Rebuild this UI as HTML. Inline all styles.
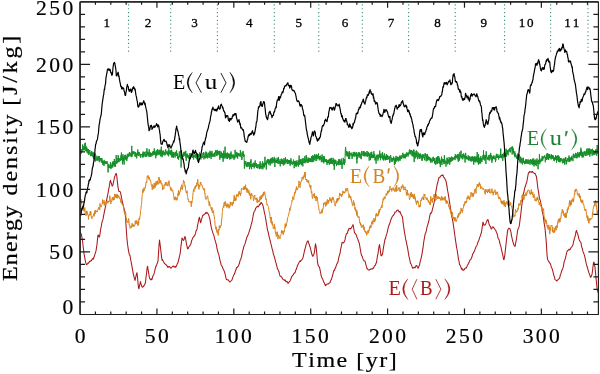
<!DOCTYPE html>
<html><head><meta charset="utf-8"><style>
html,body{margin:0;padding:0;background:#fff;width:600px;height:374px;overflow:hidden}
svg{display:block;will-change:transform}
.s{font-family:"Liberation Serif",serif;fill:#000;font-kerning:none}
.sm{stroke:#000;stroke-width:0.3px}
.th{}
.tl{stroke:#000;stroke-width:0.2px}
</style></head><body>
<svg width="600" height="374" viewBox="0 0 600 374">
<defs><clipPath id="c"><rect x="80" y="1.8" width="518.4" height="312.6"/></clipPath></defs>
<rect width="600" height="374" fill="#fff"/>
<line x1="128.5" y1="4.3" x2="128.5" y2="53" stroke="#3d9282" stroke-width="1.1" stroke-dasharray="1.2 2.65"/>
<line x1="170.7" y1="4.3" x2="170.7" y2="53" stroke="#3d9282" stroke-width="1.1" stroke-dasharray="1.2 2.65"/>
<line x1="217.4" y1="4.3" x2="217.4" y2="53" stroke="#3d9282" stroke-width="1.1" stroke-dasharray="1.2 2.65"/>
<line x1="274.3" y1="4.3" x2="274.3" y2="53" stroke="#3d9282" stroke-width="1.1" stroke-dasharray="1.2 2.65"/>
<line x1="318.8" y1="4.3" x2="318.8" y2="53" stroke="#3d9282" stroke-width="1.1" stroke-dasharray="1.2 2.65"/>
<line x1="362.3" y1="4.3" x2="362.3" y2="53" stroke="#3d9282" stroke-width="1.1" stroke-dasharray="1.2 2.65"/>
<line x1="408.6" y1="4.3" x2="408.6" y2="53" stroke="#3d9282" stroke-width="1.1" stroke-dasharray="1.2 2.65"/>
<line x1="455.2" y1="4.3" x2="455.2" y2="53" stroke="#3d9282" stroke-width="1.1" stroke-dasharray="1.2 2.65"/>
<line x1="504.6" y1="4.3" x2="504.6" y2="53" stroke="#3d9282" stroke-width="1.1" stroke-dasharray="1.2 2.65"/>
<line x1="550.6" y1="4.3" x2="550.6" y2="53" stroke="#3d9282" stroke-width="1.1" stroke-dasharray="1.2 2.65"/>
<line x1="588.0" y1="4.3" x2="588.0" y2="53" stroke="#3d9282" stroke-width="1.1" stroke-dasharray="1.2 2.65"/>
<text x="103.44" y="26.60" font-size="13.1" letter-spacing="1.90" class="s sm">1</text>
<text x="144.80" y="26.60" font-size="13.1" letter-spacing="1.90" class="s sm">2</text>
<text x="191.27" y="26.60" font-size="13.1" letter-spacing="1.90" class="s sm">3</text>
<text x="246.00" y="26.60" font-size="13.1" letter-spacing="1.90" class="s sm">4</text>
<text x="295.60" y="26.60" font-size="13.1" letter-spacing="1.90" class="s sm">5</text>
<text x="341.64" y="26.60" font-size="13.1" letter-spacing="1.90" class="s sm">6</text>
<text x="387.68" y="26.60" font-size="13.1" letter-spacing="1.90" class="s sm">7</text>
<text x="434.32" y="26.60" font-size="13.1" letter-spacing="1.90" class="s sm">8</text>
<text x="480.58" y="26.60" font-size="13.1" letter-spacing="1.90" class="s sm">9</text>
<text x="518.67" y="26.60" font-size="13.1" letter-spacing="1.90" class="s sm">10</text>
<text x="564.32" y="26.60" font-size="13.1" letter-spacing="1.90" class="s sm">11</text>
<g clip-path="url(#c)" fill="none" stroke-linejoin="round">
<polyline points="80.00,232.38 80.50,232.78 81.00,233.67 81.50,234.97 82.00,237.91 82.50,240.51 83.00,245.29 83.50,249.31 84.00,253.43 84.50,256.34 85.00,258.93 85.50,261.90 86.00,263.38 86.50,264.66 87.00,264.19 87.50,264.07 88.00,262.83 88.50,263.31 89.00,262.49 89.50,261.24 90.00,261.33 90.50,261.22 91.00,260.56 91.50,260.71 92.00,259.33 92.50,258.59 93.00,259.32 93.50,258.74 94.00,256.97 94.50,255.77 95.00,254.19 95.50,252.57 96.00,250.88 96.50,247.69 97.00,244.35 97.50,239.09 98.00,235.01 98.50,235.17 99.00,236.92 99.50,236.97 100.00,234.01 100.50,229.89 101.00,227.54 101.50,225.24 102.00,221.84 102.50,220.73 103.00,219.18 103.50,216.19 104.00,213.86 104.50,211.12 105.00,208.89 105.50,206.41 106.00,203.95 106.50,200.72 107.00,198.18 107.50,195.86 108.00,193.30 108.50,190.43 109.00,187.84 109.50,185.02 110.00,181.69 110.50,180.29 111.00,182.59 111.50,183.36 112.00,185.99 112.50,186.05 113.00,184.66 113.50,182.19 114.00,179.73 114.50,177.17 115.00,175.88 115.50,174.30 116.00,173.50 116.50,173.91 117.00,178.22 117.50,183.14 118.00,187.10 118.50,189.82 119.00,191.51 119.50,191.49 120.00,191.57 120.50,192.62 121.00,194.95 121.50,197.71 122.00,200.02 122.50,202.75 123.00,204.13 123.50,206.53 124.00,208.32 124.50,211.03 125.00,213.58 125.50,216.43 126.00,224.97 126.50,232.66 127.00,239.11 127.50,244.03 128.00,247.44 128.50,250.84 129.00,253.10 129.50,255.01 130.00,255.42 130.50,258.71 131.00,261.23 131.50,263.96 132.00,266.62 132.50,269.32 133.00,272.37 133.50,274.78 134.00,276.86 134.50,278.73 135.00,280.45 135.50,278.52 136.00,275.87 136.50,273.82 137.00,272.75 137.50,277.37 138.00,282.76 138.50,287.99 139.00,288.73 139.50,285.67 140.00,283.86 140.50,281.55 141.00,283.94 141.50,285.46 142.00,286.93 142.50,287.27 143.00,286.72 143.50,286.45 144.00,285.48 144.50,285.00 145.00,283.68 145.50,282.59 146.00,277.11 146.50,273.78 147.00,269.09 147.50,266.18 148.00,268.98 148.50,272.03 149.00,275.26 149.50,278.24 150.00,278.89 150.50,279.46 151.00,279.84 151.50,278.79 152.00,279.41 152.50,277.26 153.00,275.80 153.50,274.91 154.00,273.95 154.50,272.14 155.00,269.69 155.50,267.82 156.00,266.01 156.50,265.72 157.00,263.87 157.50,262.50 158.00,261.09 158.50,253.14 159.00,245.65 159.50,240.01 160.00,243.55 160.50,247.71 161.00,252.12 161.50,256.23 162.00,260.20 162.50,259.59 163.00,260.84 163.50,261.67 164.00,262.43 164.50,263.45 165.00,263.94 165.50,264.48 166.00,264.87 166.50,264.97 167.00,265.93 167.50,266.63 168.00,267.53 168.50,266.74 169.00,266.43 169.50,266.50 170.00,267.06 170.50,268.04 171.00,268.14 171.50,267.48 172.00,267.01 172.50,266.42 173.00,266.09 173.50,266.30 174.00,266.89 174.50,266.96 175.00,266.29 175.50,267.24 176.00,266.59 176.50,266.11 177.00,264.42 177.50,263.16 178.00,262.73 178.50,260.12 179.00,258.51 179.50,256.23 180.00,254.40 180.50,250.52 181.00,245.58 181.50,242.30 182.00,238.02 182.50,238.61 183.00,239.82 183.50,240.36 184.00,239.70 184.50,237.67 185.00,236.47 185.50,238.47 186.00,240.99 186.50,244.10 187.00,246.10 187.50,248.68 188.00,248.89 188.50,247.77 189.00,246.74 189.50,246.10 190.00,245.61 190.50,244.13 191.00,243.54 191.50,241.05 192.00,239.85 192.50,238.72 193.00,237.44 193.50,236.96 194.00,236.29 194.50,236.00 195.00,234.82 195.50,233.41 196.00,230.83 196.50,230.54 197.00,229.15 197.50,225.53 198.00,223.51 198.50,220.61 199.00,218.50 199.50,217.18 200.00,220.36 200.50,222.76 201.00,221.82 201.50,219.21 202.00,218.22 202.50,216.00 203.00,215.08 203.50,215.30 204.00,214.66 204.50,214.39 205.00,213.63 205.50,213.51 206.00,212.20 206.50,213.19 207.00,212.84 207.50,212.84 208.00,213.93 208.50,214.31 209.00,216.14 209.50,217.56 210.00,219.67 210.50,223.21 211.00,225.96 211.50,228.49 212.00,230.11 212.50,231.55 213.00,233.42 213.50,234.37 214.00,235.95 214.50,238.40 215.00,240.11 215.50,241.42 216.00,243.54 216.50,245.20 217.00,248.70 217.50,250.43 218.00,252.29 218.50,254.14 219.00,255.37 219.50,257.90 220.00,260.46 220.50,261.81 221.00,264.45 221.50,265.52 222.00,266.18 222.50,267.24 223.00,268.96 223.50,269.45 224.00,270.65 224.50,272.02 225.00,273.70 225.50,275.58 226.00,278.17 226.50,279.66 227.00,279.36 227.50,279.84 228.00,280.19 228.50,279.96 229.00,280.97 229.50,281.74 230.00,282.00 230.50,281.17 231.00,280.99 231.50,280.51 232.00,279.89 232.50,278.03 233.00,276.89 233.50,275.58 234.00,274.49 234.50,273.85 235.00,272.54 235.50,270.71 236.00,269.78 236.50,267.57 237.00,267.75 237.50,266.92 238.00,266.39 238.50,265.98 239.00,264.16 239.50,263.05 240.00,260.68 240.50,259.71 241.00,258.33 241.50,256.86 242.00,254.22 242.50,251.64 243.00,249.79 243.50,248.00 244.00,245.88 244.50,244.98 245.00,243.88 245.50,242.05 246.00,240.24 246.50,238.83 247.00,236.67 247.50,236.35 248.00,234.69 248.50,234.03 249.00,232.07 249.50,230.61 250.00,228.99 250.50,227.30 251.00,225.49 251.50,223.40 252.00,222.23 252.50,219.20 253.00,216.67 253.50,213.60 254.00,211.83 254.50,211.26 255.00,210.58 255.50,208.62 256.00,207.87 256.50,207.07 257.00,206.65 257.50,206.17 258.00,206.99 258.50,206.20 259.00,205.92 259.50,204.12 260.00,203.93 260.50,204.20 261.00,202.26 261.50,202.75 262.00,203.67 262.50,204.04 263.00,205.80 263.50,207.78 264.00,210.36 264.50,213.02 265.00,214.98 265.50,217.57 266.00,220.59 266.50,224.01 267.00,226.78 267.50,230.41 268.00,231.34 268.50,233.61 269.00,236.28 269.50,237.93 270.00,240.24 270.50,242.19 271.00,244.15 271.50,246.12 272.00,248.23 272.50,249.91 273.00,252.22 273.50,254.53 274.00,255.61 274.50,257.56 275.00,259.10 275.50,261.58 276.00,262.86 276.50,264.93 277.00,266.89 277.50,268.80 278.00,269.61 278.50,271.12 279.00,271.70 279.50,274.41 280.00,275.79 280.50,276.32 281.00,276.15 281.50,277.35 282.00,277.36 282.50,278.89 283.00,279.26 283.50,279.66 284.00,279.99 284.50,280.44 285.00,279.88 285.50,280.53 286.00,281.79 286.50,281.52 287.00,281.69 287.50,281.78 288.00,283.43 288.50,282.42 289.00,282.23 289.50,281.71 290.00,280.95 290.50,279.88 291.00,278.85 291.50,277.08 292.00,276.28 292.50,275.62 293.00,275.14 293.50,274.37 294.00,273.35 294.50,272.82 295.00,272.88 295.50,271.10 296.00,269.62 296.50,268.86 297.00,267.02 297.50,265.77 298.00,264.36 298.50,263.70 299.00,262.50 299.50,261.73 300.00,260.91 300.50,261.50 301.00,260.53 301.50,260.13 302.00,259.58 302.50,258.48 303.00,257.68 303.50,255.42 304.00,253.24 304.50,250.74 305.00,248.87 305.50,247.12 306.00,244.86 306.50,243.86 307.00,242.12 307.50,241.23 308.00,240.83 308.50,242.44 309.00,243.71 309.50,245.70 310.00,246.72 310.50,248.67 311.00,250.64 311.50,253.01 312.00,254.55 312.50,256.00 313.00,256.25 313.50,254.60 314.00,254.26 314.50,251.70 315.00,247.07 315.50,243.83 316.00,246.19 316.50,250.19 317.00,256.06 317.50,262.19 318.00,264.78 318.50,266.20 319.00,266.60 319.50,267.42 320.00,269.58 320.50,272.00 321.00,275.01 321.50,276.85 322.00,278.19 322.50,278.76 323.00,279.88 323.50,281.47 324.00,282.38 324.50,283.48 325.00,284.86 325.50,285.61 326.00,285.16 326.50,284.16 327.00,284.24 327.50,284.05 328.00,283.84 328.50,283.88 329.00,283.27 329.50,282.85 330.00,282.51 330.50,280.90 331.00,279.93 331.50,279.31 332.00,277.42 332.50,275.76 333.00,273.87 333.50,271.65 334.00,270.26 334.50,270.56 335.00,268.32 335.50,268.02 336.00,266.32 336.50,264.97 337.00,263.80 337.50,262.64 338.00,261.92 338.50,258.88 339.00,256.69 339.50,254.86 340.00,253.56 340.50,250.17 341.00,247.78 341.50,245.39 342.00,242.59 342.50,242.22 343.00,242.87 343.50,243.06 344.00,242.25 344.50,241.30 345.00,239.93 345.50,236.91 346.00,235.11 346.50,233.80 347.00,233.54 347.50,232.97 348.00,230.27 348.50,230.37 349.00,228.29 349.50,228.73 350.00,228.28 350.50,228.85 351.00,228.48 351.50,227.54 352.00,226.93 352.50,225.65 353.00,224.62 353.50,226.75 354.00,229.97 354.50,232.87 355.00,233.20 355.50,233.74 356.00,234.57 356.50,235.75 357.00,237.40 357.50,238.34 358.00,239.55 358.50,241.48 359.00,242.38 359.50,244.21 360.00,247.49 360.50,250.35 361.00,253.24 361.50,255.42 362.00,256.03 362.50,257.44 363.00,258.90 363.50,260.19 364.00,260.65 364.50,260.80 365.00,261.19 365.50,262.98 366.00,265.33 366.50,266.69 367.00,268.86 367.50,268.80 368.00,269.57 368.50,269.90 369.00,270.23 369.50,269.75 370.00,269.53 370.50,269.26 371.00,269.07 371.50,268.67 372.00,269.06 372.50,268.99 373.00,268.12 373.50,268.25 374.00,266.86 374.50,265.73 375.00,265.52 375.50,265.17 376.00,263.21 376.50,262.69 377.00,258.76 377.50,255.85 378.00,253.65 378.50,250.05 379.00,246.34 379.50,244.55 380.00,248.03 380.50,251.67 381.00,255.65 381.50,255.77 382.00,254.92 382.50,254.44 383.00,250.87 383.50,247.33 384.00,244.65 384.50,241.83 385.00,239.21 385.50,238.27 386.00,236.29 386.50,234.93 387.00,233.17 387.50,230.90 388.00,228.86 388.50,226.59 389.00,225.27 389.50,224.02 390.00,222.75 390.50,220.93 391.00,219.51 391.50,218.00 392.00,217.26 392.50,216.03 393.00,215.68 393.50,215.27 394.00,214.13 394.50,213.97 395.00,211.95 395.50,211.98 396.00,211.98 396.50,211.28 397.00,210.15 397.50,210.15 398.00,209.86 398.50,211.06 399.00,211.87 399.50,211.93 400.00,211.41 400.50,213.38 401.00,214.14 401.50,215.19 402.00,215.99 402.50,217.30 403.00,221.67 403.50,225.92 404.00,228.94 404.50,232.48 405.00,234.94 405.50,238.27 406.00,240.74 406.50,242.84 407.00,245.42 407.50,247.63 408.00,250.58 408.50,253.77 409.00,256.39 409.50,258.61 410.00,260.78 410.50,263.47 411.00,263.86 411.50,265.11 412.00,266.42 412.50,268.23 413.00,268.11 413.50,267.76 414.00,267.36 414.50,267.29 415.00,267.91 415.50,267.05 416.00,265.69 416.50,265.42 417.00,265.86 417.50,267.42 418.00,268.21 418.50,267.71 419.00,265.99 419.50,265.06 420.00,262.55 420.50,260.47 421.00,258.79 421.50,256.44 422.00,254.23 422.50,250.68 423.00,248.04 423.50,243.60 424.00,240.29 424.50,237.56 425.00,234.69 425.50,233.11 426.00,232.25 426.50,229.74 427.00,227.17 427.50,225.62 428.00,223.90 428.50,222.01 429.00,220.32 429.50,217.04 430.00,214.98 430.50,213.03 431.00,213.45 431.50,212.17 432.00,211.40 432.50,208.95 433.00,207.02 433.50,205.04 434.00,202.93 434.50,200.04 435.00,198.24 435.50,194.75 436.00,190.82 436.50,188.48 437.00,185.25 437.50,183.28 438.00,181.36 438.50,179.24 439.00,177.50 439.50,177.26 440.00,177.13 440.50,176.54 441.00,175.76 441.50,175.40 442.00,175.17 442.50,175.40 443.00,174.82 443.50,177.03 444.00,177.45 444.50,177.82 445.00,179.12 445.50,179.99 446.00,181.11 446.50,183.79 447.00,186.11 447.50,189.98 448.00,192.52 448.50,195.39 449.00,198.77 449.50,201.80 450.00,205.10 450.50,208.23 451.00,211.29 451.50,213.58 452.00,217.43 452.50,219.55 453.00,222.43 453.50,225.86 454.00,228.99 454.50,233.07 455.00,236.49 455.50,240.16 456.00,243.32 456.50,246.85 457.00,249.25 457.50,252.65 458.00,255.58 458.50,259.61 459.00,260.91 459.50,264.59 460.00,264.85 460.50,266.28 461.00,267.49 461.50,269.27 462.00,268.65 462.50,268.77 463.00,270.40 463.50,270.29 464.00,269.75 464.50,269.51 465.00,268.20 465.50,267.95 466.00,268.12 466.50,267.39 467.00,266.47 467.50,264.89 468.00,264.57 468.50,263.02 469.00,262.79 469.50,260.96 470.00,260.16 470.50,259.61 471.00,259.20 471.50,257.84 472.00,256.84 472.50,254.53 473.00,253.53 473.50,252.92 474.00,251.58 474.50,251.11 475.00,249.19 475.50,248.47 476.00,246.61 476.50,246.35 477.00,245.16 477.50,243.60 478.00,242.00 478.50,240.93 479.00,239.87 479.50,238.16 480.00,236.64 480.50,235.51 481.00,233.64 481.50,232.28 482.00,228.86 482.50,225.29 483.00,222.09 483.50,223.52 484.00,225.37 484.50,224.95 485.00,224.95 485.50,224.60 486.00,223.15 486.50,221.91 487.00,220.75 487.50,219.71 488.00,219.61 488.50,221.55 489.00,223.94 489.50,225.05 490.00,226.21 490.50,226.42 491.00,228.69 491.50,228.92 492.00,228.02 492.50,227.05 493.00,226.75 493.50,227.34 494.00,228.20 494.50,228.70 495.00,229.51 495.50,230.08 496.00,231.09 496.50,232.49 497.00,233.48 497.50,235.11 498.00,238.03 498.50,238.83 499.00,239.63 499.50,241.28 500.00,243.57 500.50,245.67 501.00,247.01 501.50,249.56 502.00,251.88 502.50,254.02 503.00,256.06 503.50,259.30 504.00,259.58 504.50,257.10 505.00,253.49 505.50,248.84 506.00,244.40 506.50,239.44 507.00,235.94 507.50,231.42 508.00,229.24 508.50,228.92 509.00,228.16 509.50,228.37 510.00,228.96 510.50,230.35 511.00,232.28 511.50,235.82 512.00,237.88 512.50,240.25 513.00,242.12 513.50,243.61 514.00,245.25 514.50,246.03 515.00,246.40 515.50,244.26 516.00,241.36 516.50,238.63 517.00,234.99 517.50,230.93 518.00,229.03 518.50,228.40 519.00,227.16 519.50,224.22 520.00,220.13 520.50,216.40 521.00,212.21 521.50,207.65 522.00,204.04 522.50,200.93 523.00,196.21 523.50,193.45 524.00,191.60 524.50,189.14 525.00,186.93 525.50,186.15 526.00,184.05 526.50,182.85 527.00,180.89 527.50,178.03 528.00,175.14 528.50,172.68 529.00,172.80 529.50,171.57 530.00,172.09 530.50,171.81 531.00,172.03 531.50,172.27 532.00,171.45 532.50,171.40 533.00,172.43 533.50,172.65 534.00,173.25 534.50,173.42 535.00,173.30 535.50,174.68 536.00,175.52 536.50,176.99 537.00,180.90 537.50,185.00 538.00,188.98 538.50,191.67 539.00,195.32 539.50,198.64 540.00,199.51 540.50,201.48 541.00,204.17 541.50,206.13 542.00,208.31 542.50,211.93 543.00,214.35 543.50,218.01 544.00,222.26 544.50,225.32 545.00,228.20 545.50,233.79 546.00,238.69 546.50,245.91 547.00,254.26 547.50,259.13 548.00,260.31 548.50,261.10 549.00,262.01 549.50,262.46 550.00,263.45 550.50,264.00 551.00,265.92 551.50,267.67 552.00,268.23 552.50,270.04 553.00,271.78 553.50,273.99 554.00,275.74 554.50,277.19 555.00,279.62 555.50,279.90 556.00,280.16 556.50,280.72 557.00,280.98 557.50,280.11 558.00,279.65 558.50,279.05 559.00,278.70 559.50,278.21 560.00,276.77 560.50,274.22 561.00,273.46 561.50,271.35 562.00,270.04 562.50,268.95 563.00,267.85 563.50,265.73 564.00,262.60 564.50,260.78 565.00,259.64 565.50,257.55 566.00,255.71 566.50,253.34 567.00,251.66 567.50,250.74 568.00,250.37 568.50,250.05 569.00,249.15 569.50,249.91 570.00,249.61 570.50,248.93 571.00,247.68 571.50,247.02 572.00,246.57 572.50,245.35 573.00,245.00 573.50,241.75 574.00,240.10 574.50,238.07 575.00,236.82 575.50,234.46 576.00,231.69 576.50,230.49 577.00,232.19 577.50,233.33 578.00,234.88 578.50,237.29 579.00,239.18 579.50,240.70 580.00,241.06 580.50,242.02 581.00,242.59 581.50,245.81 582.00,247.81 582.50,249.29 583.00,251.66 583.50,252.65 584.00,254.14 584.50,255.51 585.00,257.64 585.50,260.02 586.00,262.52 586.50,264.89 587.00,266.24 587.50,267.74 588.00,269.81 588.50,271.35 589.00,272.93 589.50,274.19 590.00,275.64 590.50,277.24 591.00,277.13 591.50,275.42 592.00,274.52 592.50,270.71 593.00,266.61 593.50,262.64 594.00,262.06 594.50,264.90 595.00,267.27 595.50,272.34 596.00,278.09 596.50,282.74 597.00,287.99 597.50,290.71 598.00,292.49" stroke="#a8181a" stroke-width="1.05"/>
<polyline points="80.00,198.29 80.25,200.35 80.50,200.31 80.75,199.57 81.00,199.66 81.25,199.28 81.50,201.96 81.75,204.32 82.00,204.73 82.25,206.41 82.50,208.60 82.75,208.41 83.00,209.51 83.25,210.92 83.50,208.35 83.75,207.85 84.00,208.18 84.25,211.34 84.50,210.22 84.75,207.53 85.00,209.61 85.25,214.64 85.50,214.90 85.75,214.94 86.00,215.77 86.25,210.92 86.50,213.45 86.75,214.63 87.00,210.95 87.25,212.35 87.50,214.27 87.75,214.73 88.00,214.39 88.25,216.01 88.50,219.41 88.75,216.23 89.00,214.81 89.25,215.24 89.50,214.82 89.75,215.06 90.00,213.02 90.25,211.43 90.50,215.22 90.75,211.19 91.00,213.46 91.25,215.77 91.50,217.84 91.75,218.66 92.00,218.73 92.25,217.54 92.50,216.46 92.75,216.82 93.00,216.54 93.25,215.83 93.50,215.11 93.75,213.40 94.00,216.11 94.25,216.23 94.50,211.39 94.75,214.00 95.00,212.61 95.25,210.02 95.50,213.41 95.75,210.76 96.00,210.64 96.25,210.75 96.50,211.50 96.75,212.15 97.00,210.90 97.25,211.96 97.50,210.46 97.75,210.41 98.00,209.05 98.25,209.03 98.50,207.57 98.75,208.26 99.00,208.78 99.25,207.28 99.50,208.57 99.75,210.08 100.00,203.36 100.25,206.31 100.50,206.57 100.75,207.20 101.00,206.27 101.25,206.97 101.50,205.19 101.75,204.74 102.00,204.36 102.25,203.28 102.50,199.54 102.75,203.65 103.00,202.50 103.25,202.10 103.50,203.14 103.75,202.39 104.00,200.11 104.25,205.43 104.50,202.18 104.75,204.82 105.00,205.18 105.25,205.52 105.50,204.98 105.75,202.92 106.00,201.39 106.25,201.67 106.50,203.00 106.75,203.92 107.00,201.59 107.25,200.71 107.50,202.94 107.75,201.51 108.00,201.95 108.25,201.83 108.50,202.48 108.75,200.86 109.00,201.74 109.25,201.40 109.50,199.56 109.75,195.66 110.00,196.52 110.25,199.69 110.50,200.22 110.75,204.02 111.00,201.64 111.25,200.79 111.50,201.80 111.75,200.39 112.00,198.72 112.25,199.54 112.50,197.48 112.75,198.09 113.00,200.43 113.25,196.82 113.50,199.57 113.75,199.14 114.00,199.58 114.25,199.92 114.50,197.78 114.75,193.89 115.00,195.48 115.25,195.32 115.50,197.60 115.75,194.07 116.00,194.59 116.25,194.79 116.50,198.06 116.75,194.59 117.00,195.62 117.25,198.28 117.50,194.52 117.75,198.02 118.00,197.44 118.25,195.72 118.50,196.82 118.75,195.67 119.00,197.06 119.25,197.58 119.50,198.80 119.75,197.70 120.00,197.77 120.25,198.47 120.50,200.21 120.75,202.29 121.00,199.34 121.25,203.01 121.50,202.76 121.75,203.73 122.00,203.60 122.25,204.59 122.50,204.51 122.75,203.89 123.00,205.07 123.25,205.54 123.50,207.02 123.75,208.60 124.00,211.06 124.25,212.22 124.50,211.76 124.75,211.05 125.00,213.23 125.25,210.98 125.50,215.40 125.75,213.23 126.00,217.51 126.25,221.21 126.50,218.11 126.75,221.49 127.00,221.94 127.25,221.19 127.50,221.06 127.75,222.18 128.00,222.94 128.25,220.88 128.50,218.44 128.75,218.92 129.00,221.46 129.25,225.26 129.50,224.72 129.75,225.76 130.00,228.43 130.25,227.95 130.50,227.64 130.75,227.72 131.00,225.70 131.25,227.65 131.50,226.98 131.75,227.16 132.00,223.14 132.25,223.45 132.50,226.06 132.75,224.69 133.00,226.80 133.25,224.59 133.50,225.46 133.75,225.21 134.00,226.49 134.25,224.89 134.50,225.44 134.75,225.54 135.00,225.11 135.25,221.08 135.50,223.96 135.75,222.18 136.00,220.13 136.25,220.31 136.50,221.97 136.75,223.81 137.00,223.26 137.25,221.71 137.50,224.44 137.75,223.76 138.00,225.72 138.25,220.55 138.50,224.94 138.75,222.37 139.00,218.51 139.25,219.81 139.50,218.14 139.75,218.82 140.00,215.71 140.25,215.51 140.50,211.77 140.75,209.40 141.00,208.87 141.25,205.31 141.50,204.27 141.75,201.51 142.00,196.43 142.25,195.67 142.50,193.71 142.75,189.36 143.00,191.71 143.25,191.81 143.50,192.34 143.75,188.60 144.00,187.77 144.25,190.56 144.50,189.16 144.75,188.68 145.00,187.68 145.25,188.13 145.50,185.53 145.75,185.84 146.00,181.98 146.25,181.64 146.50,181.36 146.75,182.76 147.00,178.68 147.25,176.18 147.50,177.31 147.75,175.47 148.00,176.00 148.25,175.91 148.50,175.98 148.75,179.33 149.00,177.55 149.25,177.09 149.50,178.87 149.75,178.60 150.00,180.64 150.25,180.45 150.50,180.03 150.75,181.65 151.00,183.23 151.25,184.96 151.50,184.96 151.75,186.60 152.00,187.65 152.25,189.81 152.50,188.62 152.75,184.47 153.00,186.49 153.25,186.16 153.50,186.73 153.75,188.86 154.00,187.81 154.25,182.86 154.50,187.15 154.75,187.12 155.00,186.83 155.25,187.55 155.50,183.56 155.75,185.97 156.00,181.41 156.25,182.65 156.50,182.23 156.75,185.07 157.00,181.40 157.25,180.90 157.50,184.00 157.75,181.84 158.00,184.43 158.25,179.54 158.50,178.47 158.75,178.94 159.00,177.11 159.25,180.21 159.50,178.51 159.75,183.39 160.00,181.32 160.25,183.23 160.50,181.12 160.75,180.23 161.00,182.00 161.25,182.52 161.50,184.35 161.75,183.40 162.00,183.71 162.25,185.28 162.50,190.05 162.75,185.37 163.00,188.74 163.25,188.14 163.50,189.17 163.75,188.16 164.00,188.44 164.25,184.85 164.50,184.78 164.75,185.02 165.00,183.53 165.25,185.51 165.50,183.83 165.75,182.24 166.00,184.14 166.25,182.10 166.50,182.92 166.75,183.29 167.00,185.82 167.25,184.12 167.50,183.97 167.75,184.19 168.00,186.09 168.25,182.31 168.50,183.76 168.75,182.31 169.00,180.65 169.25,183.22 169.50,185.50 169.75,186.06 170.00,186.14 170.25,187.87 170.50,187.93 170.75,190.35 171.00,187.56 171.25,188.54 171.50,189.30 171.75,188.94 172.00,191.15 172.25,190.88 172.50,190.18 172.75,190.12 173.00,192.18 173.25,192.70 173.50,194.30 173.75,196.14 174.00,197.89 174.25,199.57 174.50,197.09 174.75,198.99 175.00,200.22 175.25,199.21 175.50,197.99 175.75,196.78 176.00,199.33 176.25,199.87 176.50,199.28 176.75,197.80 177.00,200.32 177.25,199.64 177.50,197.68 177.75,196.74 178.00,193.33 178.25,195.83 178.50,190.48 178.75,192.89 179.00,193.10 179.25,192.69 179.50,194.41 179.75,191.53 180.00,192.05 180.25,191.30 180.50,188.89 180.75,187.46 181.00,189.28 181.25,187.59 181.50,184.72 181.75,185.14 182.00,185.40 182.25,189.75 182.50,187.67 182.75,187.98 183.00,184.87 183.25,182.36 183.50,180.25 183.75,182.34 184.00,181.96 184.25,181.50 184.50,183.37 184.75,185.10 185.00,186.52 185.25,185.65 185.50,189.57 185.75,191.18 186.00,191.27 186.25,192.89 186.50,191.71 186.75,193.13 187.00,190.76 187.25,194.55 187.50,196.36 187.75,197.42 188.00,199.41 188.25,199.08 188.50,200.26 188.75,201.71 189.00,201.11 189.25,202.12 189.50,201.50 189.75,202.14 190.00,201.40 190.25,201.39 190.50,202.43 190.75,202.02 191.00,203.31 191.25,206.69 191.50,201.35 191.75,202.21 192.00,202.82 192.25,200.23 192.50,199.71 192.75,196.22 193.00,192.70 193.25,192.33 193.50,189.34 193.75,191.61 194.00,191.75 194.25,188.29 194.50,189.26 194.75,188.65 195.00,186.38 195.25,188.55 195.50,185.46 195.75,186.28 196.00,186.60 196.25,186.64 196.50,186.53 196.75,182.70 197.00,183.91 197.25,184.26 197.50,184.36 197.75,179.30 198.00,183.85 198.25,186.14 198.50,184.42 198.75,187.64 199.00,189.39 199.25,185.20 199.50,186.08 199.75,186.75 200.00,185.83 200.25,182.47 200.50,183.46 200.75,181.92 201.00,183.27 201.25,184.61 201.50,184.06 201.75,185.44 202.00,185.49 202.25,185.57 202.50,185.62 202.75,187.68 203.00,188.93 203.25,188.68 203.50,189.52 203.75,188.48 204.00,189.27 204.25,190.72 204.50,188.68 204.75,193.83 205.00,193.32 205.25,197.99 205.50,198.32 205.75,198.24 206.00,199.52 206.25,198.57 206.50,198.93 206.75,198.85 207.00,196.13 207.25,195.91 207.50,196.12 207.75,196.10 208.00,198.45 208.25,200.17 208.50,201.72 208.75,202.68 209.00,203.84 209.25,205.72 209.50,201.56 209.75,204.64 210.00,204.39 210.25,206.08 210.50,206.80 210.75,207.68 211.00,207.74 211.25,209.29 211.50,207.60 211.75,210.42 212.00,207.51 212.25,212.70 212.50,213.03 212.75,211.48 213.00,212.00 213.25,210.47 213.50,211.58 213.75,214.05 214.00,216.03 214.25,216.17 214.50,219.68 214.75,220.33 215.00,224.27 215.25,226.25 215.50,226.89 215.75,229.03 216.00,229.20 216.25,226.71 216.50,230.52 216.75,229.75 217.00,232.53 217.25,229.79 217.50,232.89 217.75,232.29 218.00,234.01 218.25,235.44 218.50,230.62 218.75,229.23 219.00,230.43 219.25,225.60 219.50,226.30 219.75,228.28 220.00,226.42 220.25,227.52 220.50,225.67 220.75,225.24 221.00,225.58 221.25,225.84 221.50,219.99 221.75,220.15 222.00,216.99 222.25,212.56 222.50,211.43 222.75,208.18 223.00,208.01 223.25,207.16 223.50,205.55 223.75,207.53 224.00,202.68 224.25,203.66 224.50,202.54 224.75,203.17 225.00,206.14 225.25,201.31 225.50,204.43 225.75,202.93 226.00,203.92 226.25,205.86 226.50,204.56 226.75,207.51 227.00,207.54 227.25,206.59 227.50,206.35 227.75,203.76 228.00,206.69 228.25,207.23 228.50,205.57 228.75,204.50 229.00,208.34 229.25,208.00 229.50,205.66 229.75,205.28 230.00,206.52 230.25,201.87 230.50,203.75 230.75,204.97 231.00,203.93 231.25,203.85 231.50,203.66 231.75,202.37 232.00,202.52 232.25,205.89 232.50,202.51 232.75,203.92 233.00,203.31 233.25,202.47 233.50,203.59 233.75,199.32 234.00,199.27 234.25,195.14 234.50,200.19 234.75,200.77 235.00,197.30 235.25,201.07 235.50,198.19 235.75,198.74 236.00,200.30 236.25,196.86 236.50,194.55 236.75,196.42 237.00,194.36 237.25,194.85 237.50,196.00 237.75,195.30 238.00,196.58 238.25,196.71 238.50,192.76 238.75,195.02 239.00,191.11 239.25,191.32 239.50,191.46 239.75,193.97 240.00,192.89 240.25,193.93 240.50,195.82 240.75,193.44 241.00,193.86 241.25,189.86 241.50,188.35 241.75,189.18 242.00,189.66 242.25,188.77 242.50,188.40 242.75,188.67 243.00,188.39 243.25,188.48 243.50,187.38 243.75,189.89 244.00,186.68 244.25,187.82 244.50,186.26 244.75,189.60 245.00,186.81 245.25,189.26 245.50,184.78 245.75,187.28 246.00,187.43 246.25,187.48 246.50,190.29 246.75,188.53 247.00,192.44 247.25,188.70 247.50,190.10 247.75,188.89 248.00,192.98 248.25,193.21 248.50,191.72 248.75,191.46 249.00,190.23 249.25,194.94 249.50,194.57 249.75,192.69 250.00,195.69 250.25,193.91 250.50,198.91 250.75,199.34 251.00,198.03 251.25,194.76 251.50,193.76 251.75,193.19 252.00,195.57 252.25,194.94 252.50,195.48 252.75,195.29 253.00,195.82 253.25,198.47 253.50,200.89 253.75,199.90 254.00,199.60 254.25,196.78 254.50,195.91 254.75,194.95 255.00,197.70 255.25,197.97 255.50,199.26 255.75,199.55 256.00,198.15 256.25,198.63 256.50,199.26 256.75,197.75 257.00,202.56 257.25,200.38 257.50,198.74 257.75,202.44 258.00,200.32 258.25,201.84 258.50,201.04 258.75,201.19 259.00,200.71 259.25,200.94 259.50,201.64 259.75,198.03 260.00,196.47 260.25,200.16 260.50,199.25 260.75,198.56 261.00,195.69 261.25,198.05 261.50,199.22 261.75,195.28 262.00,197.50 262.25,195.52 262.50,194.14 262.75,195.52 263.00,196.18 263.25,193.06 263.50,191.93 263.75,195.57 264.00,193.13 264.25,193.56 264.50,191.69 264.75,193.02 265.00,193.89 265.25,195.28 265.50,196.45 265.75,199.65 266.00,199.36 266.25,198.83 266.50,200.68 266.75,202.90 267.00,205.01 267.25,204.13 267.50,204.66 267.75,205.38 268.00,205.58 268.25,206.50 268.50,207.67 268.75,209.52 269.00,210.78 269.25,211.72 269.50,213.05 269.75,213.12 270.00,216.62 270.25,218.56 270.50,219.26 270.75,217.02 271.00,222.63 271.25,217.01 271.50,220.43 271.75,221.29 272.00,224.41 272.25,221.58 272.50,224.97 272.75,225.89 273.00,226.42 273.25,228.40 273.50,228.97 273.75,228.64 274.00,227.28 274.25,223.87 274.50,228.82 274.75,226.70 275.00,226.55 275.25,231.05 275.50,234.01 275.75,233.08 276.00,231.94 276.25,236.53 276.50,234.38 276.75,234.53 277.00,235.50 277.25,231.68 277.50,234.96 277.75,234.67 278.00,239.17 278.25,235.03 278.50,235.78 278.75,234.88 279.00,236.46 279.25,237.29 279.50,237.78 279.75,236.99 280.00,238.72 280.25,235.61 280.50,235.81 280.75,235.63 281.00,234.65 281.25,233.43 281.50,230.38 281.75,232.93 282.00,231.26 282.25,233.27 282.50,231.22 282.75,230.62 283.00,233.01 283.25,234.73 283.50,232.39 283.75,231.47 284.00,231.13 284.25,232.27 284.50,229.74 284.75,228.10 285.00,225.38 285.25,223.51 285.50,227.77 285.75,226.94 286.00,224.17 286.25,226.06 286.50,224.01 286.75,223.26 287.00,221.15 287.25,221.23 287.50,217.96 287.75,217.44 288.00,216.75 288.25,216.52 288.50,214.23 288.75,214.19 289.00,214.32 289.25,211.66 289.50,210.79 289.75,208.28 290.00,210.62 290.25,207.43 290.50,207.91 290.75,207.60 291.00,205.21 291.25,204.55 291.50,203.70 291.75,203.38 292.00,200.11 292.25,200.65 292.50,199.36 292.75,196.61 293.00,198.17 293.25,197.84 293.50,198.84 293.75,199.71 294.00,197.70 294.25,194.05 294.50,195.31 294.75,192.06 295.00,191.93 295.25,193.36 295.50,190.18 295.75,191.50 296.00,188.75 296.25,189.17 296.50,186.63 296.75,189.38 297.00,188.71 297.25,189.96 297.50,189.00 297.75,188.28 298.00,188.29 298.25,187.04 298.50,185.43 298.75,183.87 299.00,180.91 299.25,183.39 299.50,185.14 299.75,184.78 300.00,187.77 300.25,185.35 300.50,182.38 300.75,181.88 301.00,182.33 301.25,181.27 301.50,180.28 301.75,181.03 302.00,177.48 302.25,178.44 302.50,177.09 302.75,177.37 303.00,179.41 303.25,176.64 303.50,177.74 303.75,178.14 304.00,175.35 304.25,177.02 304.50,172.21 304.75,173.69 305.00,175.46 305.25,172.27 305.50,178.36 305.75,179.87 306.00,178.97 306.25,179.19 306.50,180.02 306.75,179.07 307.00,181.85 307.25,180.21 307.50,181.01 307.75,181.06 308.00,182.05 308.25,183.06 308.50,181.05 308.75,180.47 309.00,183.39 309.25,184.45 309.50,184.33 309.75,186.60 310.00,187.26 310.25,186.55 310.50,188.54 310.75,185.07 311.00,188.51 311.25,192.66 311.50,193.03 311.75,191.44 312.00,195.02 312.25,197.89 312.50,198.58 312.75,196.59 313.00,197.12 313.25,194.16 313.50,195.10 313.75,195.70 314.00,193.70 314.25,195.41 314.50,193.52 314.75,197.79 315.00,196.28 315.25,198.51 315.50,196.72 315.75,196.71 316.00,201.11 316.25,197.15 316.50,195.94 316.75,197.84 317.00,198.29 317.25,197.18 317.50,199.03 317.75,201.65 318.00,203.37 318.25,205.36 318.50,205.68 318.75,207.73 319.00,210.31 319.25,210.36 319.50,211.28 319.75,211.74 320.00,213.86 320.25,213.42 320.50,212.73 320.75,212.18 321.00,211.82 321.25,212.61 321.50,213.08 321.75,210.56 322.00,213.20 322.25,209.20 322.50,211.42 322.75,208.76 323.00,209.12 323.25,208.01 323.50,203.19 323.75,204.79 324.00,204.58 324.25,202.63 324.50,203.40 324.75,202.82 325.00,203.54 325.25,202.50 325.50,206.40 325.75,206.38 326.00,204.75 326.25,201.68 326.50,204.30 326.75,205.24 327.00,201.43 327.25,200.20 327.50,199.42 327.75,202.42 328.00,203.87 328.25,201.07 328.50,200.02 328.75,202.40 329.00,201.00 329.25,200.68 329.50,200.14 329.75,197.42 330.00,198.90 330.25,198.65 330.50,199.62 330.75,201.20 331.00,198.86 331.25,198.95 331.50,202.88 331.75,201.66 332.00,200.18 332.25,197.43 332.50,196.92 332.75,199.06 333.00,199.80 333.25,197.54 333.50,199.16 333.75,199.48 334.00,201.03 334.25,202.43 334.50,202.33 334.75,203.64 335.00,205.66 335.25,206.21 335.50,204.22 335.75,204.09 336.00,201.33 336.25,201.27 336.50,202.85 336.75,200.64 337.00,198.68 337.25,202.11 337.50,198.26 337.75,199.15 338.00,200.53 338.25,200.29 338.50,199.28 338.75,197.99 339.00,199.45 339.25,196.66 339.50,194.15 339.75,192.87 340.00,195.30 340.25,193.93 340.50,194.34 340.75,195.77 341.00,195.43 341.25,194.37 341.50,196.91 341.75,196.14 342.00,194.92 342.25,195.21 342.50,195.02 342.75,190.89 343.00,191.15 343.25,193.18 343.50,191.66 343.75,191.76 344.00,193.12 344.25,193.19 344.50,191.76 344.75,193.07 345.00,191.95 345.25,191.84 345.50,191.11 345.75,188.55 346.00,190.90 346.25,189.95 346.50,191.17 346.75,190.48 347.00,188.32 347.25,189.15 347.50,188.05 347.75,189.03 348.00,191.18 348.25,192.61 348.50,193.40 348.75,193.97 349.00,197.89 349.25,195.84 349.50,194.50 349.75,196.55 350.00,196.04 350.25,197.83 350.50,198.48 350.75,196.37 351.00,197.85 351.25,200.35 351.50,199.08 351.75,202.04 352.00,202.99 352.25,203.98 352.50,205.71 352.75,204.42 353.00,204.40 353.25,201.81 353.50,200.49 353.75,201.96 354.00,205.54 354.25,204.53 354.50,202.88 354.75,207.22 355.00,209.49 355.25,207.45 355.50,210.47 355.75,208.95 356.00,211.57 356.25,210.82 356.50,215.33 356.75,210.17 357.00,213.31 357.25,212.10 357.50,216.30 357.75,215.99 358.00,217.39 358.25,217.02 358.50,217.10 358.75,217.71 359.00,216.46 359.25,218.43 359.50,221.27 359.75,223.02 360.00,222.44 360.25,223.65 360.50,222.78 360.75,225.40 361.00,223.95 361.25,226.29 361.50,227.69 361.75,226.96 362.00,225.99 362.25,225.88 362.50,227.22 362.75,226.19 363.00,225.20 363.25,226.38 363.50,224.78 363.75,229.66 364.00,227.55 364.25,226.92 364.50,229.86 364.75,231.36 365.00,231.58 365.25,230.71 365.50,232.62 365.75,231.42 366.00,232.55 366.25,232.96 366.50,235.30 366.75,231.96 367.00,234.35 367.25,232.33 367.50,230.86 367.75,231.38 368.00,230.54 368.25,230.73 368.50,233.14 368.75,230.29 369.00,231.11 369.25,228.73 369.50,229.45 369.75,226.57 370.00,228.29 370.25,226.10 370.50,225.06 370.75,225.71 371.00,227.69 371.25,225.26 371.50,224.24 371.75,221.79 372.00,222.67 372.25,224.13 372.50,220.72 372.75,224.27 373.00,221.72 373.25,220.77 373.50,221.39 373.75,219.31 374.00,218.10 374.25,221.26 374.50,220.22 374.75,222.06 375.00,219.26 375.25,219.02 375.50,220.24 375.75,214.86 376.00,213.75 376.25,214.78 376.50,215.65 376.75,213.28 377.00,214.17 377.25,216.56 377.50,216.18 377.75,214.56 378.00,215.93 378.25,215.50 378.50,214.03 378.75,210.91 379.00,213.39 379.25,209.23 379.50,212.14 379.75,210.63 380.00,209.25 380.25,209.67 380.50,208.93 380.75,207.96 381.00,207.42 381.25,207.93 381.50,206.95 381.75,205.18 382.00,207.58 382.25,204.00 382.50,201.82 382.75,202.45 383.00,199.42 383.25,198.43 383.50,200.21 383.75,199.68 384.00,199.52 384.25,196.69 384.50,198.17 384.75,197.78 385.00,198.76 385.25,196.83 385.50,196.18 385.75,195.95 386.00,194.70 386.25,193.29 386.50,193.87 386.75,195.36 387.00,193.24 387.25,193.86 387.50,190.95 387.75,193.49 388.00,193.18 388.25,191.78 388.50,192.77 388.75,190.70 389.00,191.24 389.25,189.74 389.50,191.64 389.75,188.36 390.00,186.22 390.25,187.60 390.50,187.75 390.75,188.14 391.00,189.97 391.25,188.61 391.50,188.62 391.75,191.42 392.00,189.30 392.25,189.58 392.50,188.55 392.75,188.19 393.00,187.56 393.25,188.09 393.50,190.18 393.75,188.13 394.00,190.28 394.25,190.91 394.50,191.41 394.75,189.63 395.00,191.06 395.25,191.37 395.50,189.89 395.75,186.89 396.00,190.23 396.25,191.61 396.50,186.27 396.75,185.07 397.00,189.14 397.25,190.50 397.50,190.43 397.75,190.64 398.00,189.84 398.25,188.90 398.50,189.24 398.75,187.71 399.00,187.18 399.25,187.61 399.50,190.50 399.75,190.86 400.00,190.03 400.25,192.03 400.50,189.23 400.75,189.55 401.00,189.21 401.25,186.07 401.50,186.42 401.75,188.48 402.00,188.17 402.25,185.58 402.50,184.70 402.75,184.50 403.00,185.52 403.25,187.23 403.50,185.87 403.75,190.00 404.00,190.06 404.25,189.81 404.50,188.86 404.75,188.30 405.00,186.80 405.25,188.36 405.50,189.03 405.75,190.18 406.00,189.24 406.25,193.39 406.50,194.53 406.75,192.17 407.00,195.63 407.25,194.69 407.50,190.17 407.75,193.83 408.00,194.71 408.25,193.94 408.50,194.90 408.75,193.74 409.00,194.62 409.25,197.78 409.50,199.74 409.75,198.79 410.00,198.01 410.25,197.65 410.50,193.12 410.75,195.20 411.00,194.24 411.25,192.11 411.50,196.51 411.75,193.84 412.00,196.14 412.25,197.08 412.50,194.16 412.75,194.84 413.00,197.45 413.25,195.05 413.50,198.66 413.75,197.74 414.00,197.63 414.25,193.75 414.50,196.83 414.75,198.61 415.00,196.56 415.25,200.08 415.50,198.57 415.75,201.51 416.00,200.91 416.25,203.78 416.50,204.69 416.75,201.92 417.00,201.25 417.25,202.81 417.50,200.61 417.75,201.36 418.00,201.85 418.25,201.58 418.50,204.48 418.75,205.36 419.00,207.14 419.25,204.86 419.50,207.13 419.75,205.58 420.00,206.01 420.25,206.06 420.50,206.37 420.75,199.97 421.00,200.11 421.25,200.79 421.50,198.48 421.75,198.76 422.00,199.16 422.25,197.55 422.50,196.79 422.75,197.28 423.00,198.60 423.25,199.76 423.50,197.14 423.75,199.99 424.00,194.03 424.25,194.40 424.50,196.02 424.75,194.01 425.00,196.21 425.25,198.01 425.50,198.37 425.75,198.38 426.00,198.32 426.25,198.57 426.50,200.04 426.75,199.77 427.00,197.44 427.25,197.95 427.50,198.70 427.75,200.37 428.00,200.35 428.25,201.70 428.50,200.44 428.75,202.41 429.00,202.41 429.25,201.72 429.50,203.69 429.75,204.47 430.00,201.67 430.25,202.33 430.50,204.95 430.75,196.27 431.00,200.93 431.25,200.03 431.50,200.28 431.75,198.93 432.00,198.99 432.25,202.68 432.50,198.30 432.75,197.97 433.00,199.41 433.25,197.42 433.50,196.44 433.75,195.62 434.00,194.53 434.25,197.62 434.50,195.52 434.75,194.19 435.00,199.94 435.25,201.04 435.50,200.62 435.75,199.12 436.00,200.07 436.25,197.08 436.50,194.59 436.75,196.82 437.00,197.67 437.25,196.81 437.50,198.90 437.75,197.50 438.00,196.28 438.25,196.47 438.50,198.56 438.75,197.94 439.00,198.28 439.25,197.15 439.50,198.81 439.75,197.06 440.00,198.63 440.25,198.37 440.50,198.96 440.75,200.53 441.00,198.85 441.25,199.85 441.50,195.93 441.75,197.32 442.00,198.39 442.25,200.19 442.50,197.54 442.75,199.90 443.00,200.35 443.25,200.18 443.50,199.19 443.75,197.89 444.00,197.76 444.25,199.02 444.50,196.88 444.75,200.20 445.00,200.23 445.25,196.50 445.50,198.93 445.75,202.38 446.00,202.72 446.25,203.72 446.50,200.16 446.75,200.76 447.00,203.11 447.25,201.63 447.50,201.01 447.75,202.89 448.00,203.70 448.25,203.75 448.50,204.73 448.75,207.07 449.00,206.38 449.25,206.57 449.50,209.30 449.75,207.33 450.00,209.60 450.25,209.71 450.50,211.97 450.75,210.78 451.00,214.36 451.25,213.85 451.50,215.16 451.75,213.79 452.00,214.86 452.25,213.10 452.50,212.29 452.75,216.74 453.00,217.28 453.25,219.05 453.50,216.90 453.75,217.33 454.00,218.12 454.25,220.80 454.50,220.88 454.75,217.03 455.00,220.70 455.25,219.76 455.50,217.79 455.75,220.45 456.00,221.66 456.25,221.07 456.50,221.27 456.75,219.86 457.00,218.77 457.25,218.57 457.50,215.74 457.75,217.46 458.00,215.71 458.25,217.25 458.50,213.20 458.75,216.15 459.00,213.35 459.25,213.73 459.50,214.41 459.75,214.51 460.00,212.46 460.25,211.38 460.50,213.84 460.75,211.68 461.00,207.90 461.25,208.35 461.50,210.76 461.75,209.89 462.00,210.66 462.25,212.70 462.50,209.77 462.75,210.64 463.00,208.17 463.25,208.16 463.50,207.93 463.75,204.50 464.00,205.35 464.25,204.37 464.50,205.37 464.75,202.42 465.00,201.41 465.25,203.41 465.50,201.81 465.75,202.85 466.00,203.12 466.25,200.92 466.50,202.36 466.75,200.65 467.00,197.46 467.25,198.29 467.50,197.64 467.75,199.12 468.00,195.65 468.25,196.52 468.50,196.56 468.75,198.52 469.00,196.45 469.25,197.08 469.50,197.94 469.75,199.92 470.00,196.74 470.25,196.89 470.50,195.32 470.75,193.17 471.00,192.23 471.25,193.29 471.50,193.06 471.75,192.75 472.00,196.79 472.25,194.42 472.50,195.21 472.75,193.23 473.00,196.44 473.25,195.19 473.50,196.30 473.75,192.94 474.00,193.80 474.25,192.99 474.50,189.74 474.75,190.38 475.00,189.10 475.25,189.00 475.50,188.62 475.75,191.01 476.00,193.39 476.25,188.78 476.50,188.70 476.75,186.35 477.00,187.16 477.25,183.98 477.50,185.17 477.75,185.72 478.00,184.04 478.25,185.18 478.50,187.02 478.75,184.31 479.00,184.02 479.25,182.32 479.50,182.56 479.75,185.65 480.00,183.83 480.25,184.28 480.50,187.00 480.75,188.91 481.00,188.57 481.25,187.32 481.50,186.69 481.75,186.50 482.00,187.91 482.25,188.85 482.50,189.24 482.75,188.88 483.00,188.62 483.25,189.45 483.50,188.47 483.75,189.05 484.00,189.95 484.25,190.19 484.50,192.45 484.75,192.55 485.00,191.63 485.25,194.40 485.50,189.07 485.75,189.52 486.00,189.18 486.25,190.79 486.50,191.60 486.75,190.51 487.00,191.81 487.25,192.12 487.50,193.08 487.75,190.98 488.00,189.28 488.25,191.82 488.50,189.70 488.75,190.75 489.00,191.91 489.25,190.38 489.50,192.75 489.75,188.74 490.00,192.16 490.25,192.19 490.50,193.30 490.75,192.48 491.00,192.76 491.25,192.88 491.50,192.16 491.75,189.86 492.00,188.68 492.25,192.08 492.50,192.96 492.75,192.12 493.00,193.94 493.25,195.27 493.50,191.61 493.75,192.43 494.00,192.75 494.25,192.45 494.50,192.26 494.75,191.43 495.00,189.67 495.25,191.66 495.50,193.41 495.75,195.04 496.00,193.79 496.25,191.82 496.50,193.38 496.75,193.78 497.00,194.35 497.25,192.16 497.50,191.79 497.75,193.42 498.00,194.12 498.25,197.29 498.50,196.66 498.75,197.43 499.00,199.17 499.25,196.92 499.50,197.76 499.75,198.88 500.00,197.58 500.25,198.30 500.50,198.66 500.75,200.38 501.00,202.53 501.25,201.99 501.50,203.53 501.75,200.56 502.00,203.29 502.25,204.28 502.50,201.04 502.75,202.10 503.00,201.06 503.25,203.40 503.50,202.81 503.75,204.61 504.00,200.26 504.25,206.36 504.50,201.86 504.75,202.94 505.00,204.58 505.25,203.50 505.50,207.06 505.75,203.50 506.00,202.43 506.25,204.03 506.50,203.27 506.75,201.12 507.00,201.81 507.25,201.93 507.50,202.98 507.75,205.23 508.00,204.34 508.25,203.15 508.50,202.46 508.75,200.27 509.00,202.29 509.25,201.56 509.50,201.52 509.75,205.89 510.00,202.02 510.25,204.62 510.50,204.14 510.75,202.93 511.00,205.57 511.25,206.01 511.50,206.68 511.75,206.00 512.00,208.71 512.25,208.96 512.50,211.15 512.75,209.95 513.00,212.72 513.25,213.52 513.50,217.29 513.75,215.69 514.00,215.86 514.25,216.41 514.50,215.40 514.75,214.89 515.00,216.35 515.25,211.91 515.50,209.41 515.75,211.31 516.00,210.95 516.25,212.63 516.50,211.78 516.75,211.12 517.00,210.69 517.25,211.21 517.50,211.31 517.75,208.71 518.00,208.00 518.25,209.29 518.50,205.14 518.75,204.22 519.00,203.35 519.25,204.84 519.50,203.92 519.75,205.73 520.00,205.34 520.25,203.97 520.50,204.30 520.75,200.44 521.00,202.03 521.25,200.02 521.50,200.86 521.75,199.27 522.00,195.44 522.25,197.31 522.50,198.40 522.75,194.30 523.00,197.22 523.25,199.36 523.50,199.81 523.75,197.80 524.00,199.40 524.25,197.05 524.50,195.45 524.75,196.07 525.00,194.30 525.25,195.70 525.50,194.55 525.75,195.68 526.00,192.42 526.25,195.85 526.50,195.23 526.75,194.31 527.00,194.03 527.25,191.27 527.50,191.95 527.75,190.89 528.00,189.90 528.25,190.55 528.50,190.18 528.75,189.93 529.00,189.88 529.25,190.73 529.50,193.72 529.75,193.45 530.00,193.35 530.25,194.19 530.50,194.61 530.75,192.49 531.00,193.50 531.25,189.52 531.50,193.01 531.75,193.66 532.00,192.98 532.25,194.28 532.50,194.99 532.75,191.88 533.00,196.15 533.25,197.49 533.50,196.59 533.75,197.51 534.00,194.21 534.25,195.97 534.50,197.18 534.75,196.92 535.00,200.81 535.25,199.81 535.50,198.94 535.75,200.67 536.00,201.24 536.25,199.73 536.50,200.89 536.75,198.33 537.00,199.06 537.25,196.87 537.50,199.74 537.75,199.00 538.00,198.45 538.25,199.97 538.50,201.96 538.75,202.66 539.00,203.29 539.25,204.97 539.50,203.02 539.75,202.39 540.00,202.19 540.25,203.46 540.50,206.10 540.75,206.29 541.00,206.63 541.25,205.84 541.50,207.18 541.75,207.45 542.00,211.51 542.25,209.02 542.50,208.42 542.75,210.47 543.00,210.98 543.25,210.30 543.50,208.66 543.75,211.45 544.00,216.43 544.25,216.54 544.50,217.92 544.75,221.96 545.00,218.80 545.25,219.13 545.50,221.48 545.75,222.09 546.00,223.65 546.25,220.02 546.50,223.79 546.75,222.99 547.00,226.30 547.25,225.21 547.50,227.36 547.75,226.75 548.00,228.08 548.25,229.61 548.50,225.73 548.75,224.92 549.00,226.27 549.25,228.35 549.50,227.03 549.75,234.15 550.00,229.44 550.25,230.47 550.50,227.56 550.75,225.87 551.00,225.50 551.25,225.76 551.50,225.34 551.75,225.98 552.00,225.27 552.25,231.18 552.50,231.78 552.75,227.01 553.00,230.51 553.25,232.60 553.50,230.66 553.75,230.69 554.00,232.95 554.25,232.40 554.50,229.57 554.75,231.89 555.00,227.72 555.25,229.80 555.50,226.43 555.75,225.99 556.00,228.74 556.25,230.22 556.50,228.82 556.75,228.70 557.00,225.04 557.25,227.61 557.50,222.72 557.75,223.64 558.00,220.63 558.25,220.94 558.50,219.26 558.75,219.79 559.00,222.47 559.25,218.71 559.50,220.50 559.75,218.79 560.00,222.13 560.25,217.73 560.50,218.50 560.75,218.36 561.00,218.30 561.25,213.79 561.50,213.06 561.75,212.60 562.00,213.31 562.25,209.34 562.50,213.00 562.75,211.33 563.00,210.65 563.25,210.74 563.50,213.33 563.75,215.60 564.00,215.07 564.25,213.41 564.50,215.53 564.75,217.24 565.00,216.18 565.25,215.63 565.50,217.64 565.75,212.70 566.00,213.22 566.25,217.65 566.50,214.97 566.75,213.25 567.00,212.83 567.25,209.27 567.50,213.05 567.75,207.72 568.00,207.40 568.25,207.77 568.50,209.33 568.75,205.99 569.00,205.79 569.25,202.56 569.50,203.39 569.75,200.36 570.00,206.42 570.25,202.29 570.50,204.42 570.75,200.92 571.00,204.91 571.25,202.55 571.50,204.51 571.75,199.92 572.00,201.66 572.25,199.34 572.50,199.69 572.75,201.01 573.00,198.32 573.25,200.34 573.50,202.11 573.75,199.61 574.00,197.36 574.25,195.64 574.50,192.93 574.75,194.42 575.00,190.20 575.25,191.81 575.50,189.25 575.75,189.25 576.00,188.97 576.25,190.35 576.50,188.99 576.75,190.12 577.00,190.74 577.25,194.07 577.50,194.90 577.75,194.14 578.00,193.57 578.25,196.23 578.50,195.89 578.75,196.12 579.00,194.84 579.25,193.49 579.50,197.71 579.75,196.33 580.00,198.23 580.25,195.82 580.50,199.96 580.75,201.15 581.00,199.51 581.25,202.40 581.50,200.92 581.75,203.08 582.00,201.61 582.25,199.86 582.50,202.32 582.75,200.54 583.00,202.94 583.25,204.09 583.50,205.11 583.75,204.77 584.00,205.47 584.25,208.04 584.50,208.22 584.75,209.06 585.00,210.67 585.25,208.98 585.50,210.71 585.75,209.41 586.00,209.61 586.25,211.89 586.50,214.77 586.75,214.80 587.00,217.74 587.25,215.56 587.50,218.79 587.75,215.98 588.00,220.86 588.25,218.12 588.50,222.65 588.75,221.84 589.00,223.36 589.25,221.33 589.50,219.28 589.75,218.42 590.00,220.04 590.25,220.24 590.50,219.21 590.75,218.23 591.00,218.41 591.25,218.72 591.50,219.26 591.75,218.39 592.00,218.04 592.25,217.09 592.50,212.46 592.75,213.98 593.00,209.75 593.25,208.88 593.50,206.36 593.75,205.63 594.00,205.76 594.25,206.27 594.50,204.45 594.75,203.04 595.00,205.55 595.25,203.58 595.50,200.18 595.75,202.00 596.00,202.37 596.25,206.52 596.50,205.48 596.75,209.60 597.00,211.30 597.25,213.58 597.50,210.98 597.75,211.11 598.00,210.56 598.25,209.79" stroke="#d8841f" stroke-width="1.0"/>
<polyline points="80.00,156.52 80.15,153.77 80.30,155.44 80.45,152.67 80.60,151.68 80.75,152.54 80.90,150.36 81.05,149.81 81.20,153.64 81.35,150.47 81.50,150.83 81.65,152.42 81.80,149.03 81.95,151.68 82.10,151.16 82.25,150.37 82.40,150.63 82.55,147.66 82.70,144.43 82.85,147.83 83.00,146.09 83.15,149.82 83.30,148.54 83.45,146.53 83.60,147.43 83.75,149.31 83.90,150.44 84.05,148.45 84.20,149.14 84.35,148.46 84.50,148.12 84.65,150.13 84.80,143.32 84.95,148.35 85.10,146.36 85.25,145.83 85.40,142.75 85.55,147.64 85.70,151.20 85.85,151.13 86.00,149.83 86.15,146.34 86.30,150.85 86.45,150.48 86.60,147.37 86.75,151.19 86.90,147.77 87.05,152.67 87.20,151.47 87.35,152.26 87.50,151.56 87.65,149.18 87.80,150.20 87.95,150.34 88.10,152.76 88.25,154.27 88.40,149.03 88.55,149.94 88.70,153.85 88.85,154.73 89.00,154.99 89.15,150.16 89.30,151.82 89.45,152.61 89.60,153.41 89.75,149.99 89.90,152.62 90.05,153.15 90.20,152.24 90.35,153.99 90.50,156.03 90.65,154.02 90.80,155.92 90.95,156.16 91.10,155.53 91.25,154.99 91.40,153.96 91.55,155.91 91.70,151.04 91.85,151.75 92.00,154.51 92.15,152.40 92.30,154.31 92.45,155.89 92.60,152.88 92.75,155.57 92.90,157.22 93.05,156.46 93.20,152.66 93.35,153.81 93.50,158.77 93.65,156.49 93.80,152.41 93.95,153.45 94.10,155.72 94.25,154.15 94.40,157.12 94.55,156.72 94.70,160.30 94.85,154.37 95.00,157.56 95.15,161.44 95.30,153.67 95.45,161.15 95.60,160.78 95.75,159.95 95.90,158.35 96.05,155.57 96.20,156.38 96.35,160.06 96.50,159.66 96.65,160.17 96.80,160.63 96.95,160.54 97.10,158.84 97.25,157.43 97.40,160.08 97.55,160.45 97.70,159.54 97.85,156.77 98.00,158.74 98.15,155.91 98.30,158.74 98.45,157.13 98.60,157.59 98.75,160.01 98.90,159.14 99.05,161.47 99.20,156.93 99.35,156.12 99.50,161.54 99.65,162.21 99.80,161.87 99.95,160.03 100.10,160.18 100.25,160.14 100.40,157.97 100.55,158.52 100.70,160.27 100.85,158.90 101.00,159.85 101.15,158.04 101.30,159.73 101.45,162.49 101.60,161.04 101.75,159.41 101.90,158.23 102.05,158.96 102.20,162.92 102.35,161.06 102.50,161.78 102.65,160.50 102.80,164.90 102.95,162.75 103.10,160.93 103.25,162.46 103.40,163.08 103.55,164.26 103.70,161.86 103.85,163.13 104.00,165.95 104.15,160.42 104.30,159.90 104.45,163.60 104.60,162.30 104.75,161.67 104.90,162.83 105.05,161.27 105.20,163.92 105.35,162.23 105.50,164.07 105.65,163.03 105.80,161.73 105.95,162.83 106.10,161.79 106.25,163.55 106.40,162.57 106.55,162.07 106.70,163.91 106.85,163.16 107.00,160.99 107.15,161.35 107.30,162.61 107.45,163.34 107.60,164.36 107.75,165.71 107.90,165.32 108.05,172.46 108.20,166.13 108.35,163.87 108.50,167.48 108.65,167.81 108.80,164.23 108.95,165.81 109.10,167.43 109.25,166.52 109.40,168.09 109.55,166.62 109.70,167.40 109.85,166.39 110.00,166.30 110.15,165.28 110.30,166.68 110.45,162.05 110.60,166.29 110.75,168.72 110.90,167.19 111.05,166.69 111.20,168.37 111.35,165.34 111.50,165.21 111.65,165.66 111.80,164.98 111.95,167.22 112.10,163.49 112.25,166.85 112.40,161.73 112.55,162.67 112.70,167.56 112.85,167.25 113.00,164.18 113.15,161.62 113.30,165.51 113.45,164.09 113.60,161.70 113.75,161.48 113.90,162.27 114.05,164.18 114.20,163.73 114.35,158.97 114.50,166.37 114.65,163.07 114.80,162.46 114.95,163.70 115.10,163.50 115.25,166.82 115.40,166.03 115.55,162.72 115.70,161.78 115.85,161.01 116.00,162.20 116.15,155.11 116.30,160.60 116.45,163.73 116.60,161.13 116.75,161.00 116.90,163.56 117.05,158.00 117.20,160.50 117.35,162.45 117.50,162.42 117.65,161.02 117.80,161.52 117.95,158.76 118.10,155.23 118.25,156.62 118.40,156.17 118.55,161.73 118.70,158.07 118.85,158.48 119.00,162.28 119.15,161.34 119.30,158.89 119.45,158.80 119.60,159.16 119.75,158.39 119.90,160.35 120.05,159.76 120.20,158.77 120.35,159.59 120.50,159.18 120.65,160.92 120.80,160.54 120.95,155.43 121.10,159.98 121.25,156.39 121.40,152.52 121.55,159.86 121.70,158.02 121.85,158.16 122.00,159.90 122.15,157.56 122.30,156.22 122.45,164.30 122.60,159.82 122.75,158.35 122.90,154.18 123.05,156.14 123.20,157.79 123.35,161.42 123.50,159.58 123.65,156.96 123.80,159.87 123.95,157.78 124.10,164.58 124.25,158.15 124.40,155.43 124.55,157.26 124.70,158.30 124.85,155.38 125.00,158.05 125.15,158.25 125.30,158.40 125.45,154.78 125.60,156.57 125.75,159.84 125.90,159.12 126.05,156.16 126.20,158.21 126.35,160.07 126.50,156.75 126.65,157.66 126.80,160.92 126.95,156.12 127.10,156.08 127.25,153.83 127.40,154.49 127.55,158.52 127.70,155.98 127.85,155.35 128.00,154.48 128.15,155.15 128.30,156.76 128.45,153.72 128.60,156.67 128.75,154.26 128.90,155.53 129.05,155.70 129.20,155.12 129.35,152.09 129.50,152.77 129.65,154.46 129.80,152.35 129.95,155.97 130.10,155.57 130.25,156.40 130.40,154.67 130.55,154.44 130.70,154.45 130.85,153.10 131.00,154.34 131.15,155.17 131.30,153.78 131.45,157.15 131.60,153.46 131.75,145.83 131.90,156.72 132.05,154.24 132.20,155.50 132.35,152.62 132.50,154.54 132.65,154.91 132.80,154.90 132.95,151.01 133.10,154.10 133.25,152.23 133.40,151.69 133.55,153.27 133.70,152.41 133.85,152.85 134.00,152.25 134.15,153.97 134.30,153.24 134.45,152.99 134.60,151.66 134.75,152.95 134.90,154.48 135.05,156.46 135.20,154.28 135.35,156.56 135.50,154.31 135.65,152.14 135.80,155.99 135.95,153.49 136.10,155.52 136.25,156.58 136.40,153.93 136.55,153.66 136.70,158.41 136.85,153.91 137.00,154.15 137.15,154.95 137.30,153.13 137.45,153.57 137.60,154.77 137.75,149.52 137.90,155.48 138.05,151.79 138.20,152.63 138.35,155.50 138.50,154.67 138.65,152.46 138.80,155.36 138.95,152.17 139.10,152.78 139.25,152.43 139.40,152.63 139.55,154.23 139.70,154.01 139.85,154.83 140.00,156.36 140.15,154.71 140.30,153.88 140.45,154.90 140.60,157.64 140.75,154.02 140.90,154.44 141.05,153.98 141.20,155.03 141.35,155.05 141.50,155.22 141.65,155.06 141.80,154.62 141.95,154.06 142.10,155.89 142.25,157.56 142.40,156.22 142.55,154.57 142.70,152.95 142.85,155.08 143.00,154.60 143.15,151.59 143.30,155.31 143.45,154.93 143.60,157.25 143.75,152.65 143.90,152.15 144.05,155.53 144.20,151.83 144.35,154.21 144.50,153.43 144.65,153.68 144.80,152.17 144.95,154.27 145.10,156.64 145.25,155.52 145.40,156.20 145.55,154.40 145.70,156.88 145.85,155.42 146.00,155.49 146.15,151.39 146.30,156.54 146.45,156.56 146.60,155.66 146.75,154.90 146.90,148.25 147.05,154.13 147.20,155.42 147.35,155.21 147.50,154.62 147.65,151.71 147.80,153.27 147.95,152.20 148.10,154.62 148.25,156.49 148.40,154.84 148.55,154.10 148.70,152.71 148.85,154.82 149.00,152.69 149.15,149.18 149.30,150.29 149.45,152.34 149.60,152.03 149.75,156.77 149.90,154.40 150.05,152.75 150.20,154.05 150.35,156.95 150.50,152.52 150.65,154.43 150.80,154.12 150.95,156.67 151.10,154.65 151.25,153.22 151.40,154.46 151.55,153.64 151.70,154.69 151.85,153.09 152.00,156.14 152.15,152.96 152.30,153.57 152.45,151.68 152.60,153.69 152.75,153.05 152.90,153.71 153.05,155.29 153.20,152.27 153.35,151.29 153.50,154.38 153.65,152.58 153.80,151.77 153.95,154.91 154.10,154.87 154.25,148.41 154.40,152.54 154.55,154.17 154.70,153.98 154.85,151.10 155.00,154.51 155.15,151.89 155.30,152.60 155.45,152.64 155.60,153.04 155.75,158.28 155.90,154.74 156.05,152.92 156.20,154.14 156.35,150.19 156.50,151.57 156.65,155.48 156.80,153.04 156.95,155.31 157.10,152.31 157.25,153.16 157.40,151.99 157.55,152.55 157.70,149.14 157.85,152.20 158.00,153.54 158.15,154.51 158.30,152.76 158.45,153.24 158.60,154.19 158.75,150.87 158.90,150.14 159.05,155.12 159.20,154.02 159.35,152.72 159.50,152.22 159.65,150.28 159.80,150.43 159.95,153.80 160.10,149.62 160.25,154.23 160.40,151.23 160.55,153.18 160.70,156.25 160.85,156.31 161.00,151.43 161.15,153.48 161.30,146.67 161.45,151.38 161.60,153.77 161.75,155.61 161.90,152.63 162.05,157.28 162.20,154.04 162.35,150.81 162.50,153.43 162.65,155.79 162.80,152.43 162.95,153.09 163.10,153.20 163.25,150.50 163.40,153.20 163.55,154.66 163.70,154.55 163.85,154.93 164.00,151.74 164.15,152.06 164.30,152.39 164.45,152.22 164.60,152.23 164.75,155.07 164.90,155.53 165.05,152.75 165.20,155.01 165.35,150.44 165.50,151.61 165.65,150.33 165.80,149.32 165.95,152.60 166.10,152.74 166.25,152.60 166.40,151.95 166.55,151.68 166.70,153.44 166.85,152.38 167.00,154.19 167.15,151.51 167.30,153.50 167.45,153.55 167.60,155.18 167.75,154.17 167.90,153.21 168.05,152.25 168.20,150.47 168.35,153.76 168.50,155.42 168.65,156.30 168.80,148.14 168.95,153.04 169.10,153.98 169.25,152.64 169.40,154.25 169.55,153.52 169.70,152.22 169.85,153.16 170.00,150.41 170.15,152.31 170.30,152.12 170.45,154.90 170.60,150.68 170.75,154.42 170.90,153.05 171.05,153.44 171.20,155.65 171.35,152.73 171.50,154.53 171.65,149.68 171.80,157.45 171.95,155.25 172.10,156.02 172.25,151.67 172.40,153.53 172.55,157.08 172.70,154.96 172.85,156.11 173.00,154.69 173.15,156.92 173.30,157.79 173.45,152.17 173.60,157.20 173.75,154.93 173.90,155.46 174.05,154.85 174.20,155.62 174.35,152.57 174.50,152.88 174.65,153.01 174.80,155.33 174.95,156.56 175.10,157.55 175.25,155.38 175.40,153.65 175.55,151.81 175.70,154.24 175.85,153.78 176.00,154.95 176.15,156.16 176.30,153.70 176.45,153.94 176.60,150.33 176.75,155.44 176.90,154.81 177.05,153.74 177.20,155.48 177.35,153.45 177.50,156.28 177.65,159.02 177.80,155.82 177.95,156.96 178.10,156.67 178.25,156.31 178.40,156.03 178.55,159.79 178.70,155.94 178.85,156.72 179.00,154.24 179.15,152.49 179.30,151.34 179.45,151.70 179.60,157.28 179.75,157.06 179.90,152.25 180.05,154.40 180.20,157.25 180.35,154.32 180.50,158.27 180.65,153.90 180.80,154.38 180.95,150.78 181.10,167.51 181.25,155.38 181.40,158.39 181.55,153.54 181.70,155.42 181.85,154.81 182.00,155.07 182.15,158.97 182.30,159.75 182.45,158.09 182.60,154.65 182.75,156.47 182.90,157.30 183.05,156.62 183.20,156.65 183.35,153.51 183.50,154.94 183.65,154.90 183.80,156.39 183.95,151.89 184.10,154.77 184.25,155.72 184.40,152.12 184.55,154.53 184.70,151.83 184.85,154.16 185.00,152.76 185.15,153.30 185.30,154.23 185.45,153.57 185.60,154.73 185.75,150.86 185.90,157.51 186.05,154.75 186.20,160.80 186.35,154.83 186.50,156.55 186.65,153.96 186.80,154.52 186.95,155.08 187.10,156.83 187.25,153.58 187.40,156.15 187.55,155.70 187.70,154.82 187.85,157.76 188.00,156.31 188.15,154.92 188.30,157.62 188.45,156.60 188.60,155.74 188.75,155.73 188.90,159.17 189.05,156.22 189.20,156.28 189.35,154.88 189.50,156.15 189.65,154.72 189.80,153.55 189.95,153.16 190.10,156.63 190.25,157.44 190.40,153.03 190.55,154.23 190.70,156.80 190.85,157.24 191.00,154.09 191.15,155.22 191.30,156.54 191.45,154.58 191.60,154.71 191.75,153.42 191.90,155.12 192.05,156.74 192.20,157.61 192.35,154.27 192.50,155.93 192.65,156.91 192.80,156.65 192.95,157.63 193.10,155.19 193.25,157.98 193.40,154.46 193.55,159.47 193.70,155.31 193.85,154.99 194.00,155.12 194.15,155.51 194.30,155.16 194.45,155.21 194.60,155.51 194.75,157.05 194.90,156.69 195.05,155.03 195.20,157.82 195.35,154.98 195.50,154.61 195.65,154.26 195.80,157.65 195.95,154.29 196.10,154.67 196.25,157.37 196.40,159.22 196.55,158.82 196.70,154.27 196.85,156.63 197.00,158.29 197.15,156.11 197.30,153.32 197.45,155.76 197.60,154.13 197.75,154.03 197.90,161.65 198.05,157.82 198.20,154.45 198.35,154.21 198.50,156.32 198.65,154.45 198.80,156.71 198.95,154.34 199.10,154.91 199.25,155.82 199.40,153.73 199.55,152.39 199.70,154.15 199.85,154.88 200.00,155.36 200.15,155.66 200.30,156.30 200.45,157.00 200.60,154.61 200.75,158.88 200.90,159.50 201.05,156.80 201.20,155.66 201.35,158.09 201.50,157.27 201.65,156.08 201.80,155.68 201.95,154.39 202.10,153.32 202.25,156.22 202.40,157.94 202.55,156.71 202.70,156.18 202.85,156.70 203.00,156.23 203.15,155.44 203.30,155.31 203.45,152.00 203.60,155.42 203.75,155.51 203.90,159.37 204.05,157.75 204.20,155.61 204.35,155.62 204.50,158.17 204.65,157.86 204.80,155.50 204.95,152.80 205.10,153.04 205.25,154.40 205.40,154.90 205.55,153.87 205.70,158.39 205.85,151.56 206.00,155.28 206.15,155.95 206.30,155.62 206.45,157.59 206.60,152.02 206.75,153.60 206.90,155.66 207.05,155.80 207.20,155.02 207.35,154.79 207.50,158.38 207.65,154.51 207.80,153.68 207.95,157.12 208.10,157.58 208.25,155.85 208.40,152.73 208.55,153.47 208.70,153.36 208.85,152.93 209.00,154.18 209.15,156.56 209.30,157.89 209.45,152.72 209.60,153.80 209.75,152.97 209.90,156.33 210.05,150.78 210.20,154.78 210.35,151.80 210.50,153.19 210.65,155.26 210.80,157.00 210.95,154.71 211.10,159.07 211.25,152.82 211.40,152.72 211.55,155.89 211.70,154.78 211.85,153.98 212.00,150.86 212.15,156.81 212.30,155.76 212.45,155.06 212.60,153.47 212.75,155.88 212.90,153.72 213.05,154.31 213.20,154.46 213.35,156.65 213.50,156.24 213.65,153.76 213.80,155.72 213.95,154.76 214.10,154.29 214.25,154.07 214.40,155.43 214.55,152.68 214.70,154.47 214.85,156.98 215.00,153.96 215.15,152.08 215.30,151.50 215.45,153.51 215.60,150.42 215.75,149.98 215.90,152.62 216.05,151.92 216.20,155.92 216.35,151.58 216.50,155.25 216.65,152.99 216.80,155.10 216.95,150.26 217.10,154.93 217.25,155.50 217.40,152.77 217.55,149.95 217.70,153.34 217.85,151.40 218.00,151.89 218.15,155.09 218.30,154.33 218.45,152.74 218.60,151.49 218.75,153.13 218.90,153.39 219.05,151.70 219.20,154.15 219.35,150.93 219.50,154.13 219.65,153.07 219.80,159.66 219.95,150.82 220.10,154.22 220.25,154.26 220.40,156.02 220.55,158.01 220.70,156.47 220.85,155.09 221.00,154.86 221.15,152.93 221.30,151.72 221.45,155.21 221.60,153.06 221.75,157.71 221.90,154.35 222.05,155.86 222.20,153.92 222.35,155.56 222.50,156.81 222.65,158.21 222.80,153.08 222.95,155.39 223.10,161.71 223.25,156.65 223.40,154.97 223.55,156.07 223.70,150.68 223.85,158.47 224.00,155.37 224.15,153.44 224.30,158.22 224.45,154.52 224.60,153.89 224.75,155.60 224.90,156.09 225.05,146.66 225.20,155.94 225.35,153.21 225.50,153.67 225.65,157.54 225.80,158.35 225.95,156.79 226.10,156.35 226.25,154.54 226.40,155.16 226.55,153.46 226.70,158.54 226.85,153.85 227.00,155.07 227.15,154.94 227.30,152.49 227.45,158.85 227.60,155.23 227.75,155.04 227.90,156.75 228.05,154.57 228.20,155.70 228.35,153.78 228.50,156.59 228.65,155.39 228.80,153.51 228.95,158.22 229.10,156.04 229.25,154.22 229.40,155.72 229.55,156.31 229.70,159.46 229.85,153.86 230.00,156.58 230.15,154.84 230.30,155.28 230.45,153.53 230.60,154.39 230.75,159.11 230.90,153.29 231.05,151.49 231.20,154.13 231.35,153.98 231.50,154.74 231.65,156.53 231.80,154.85 231.95,158.43 232.10,154.99 232.25,155.03 232.40,157.21 232.55,156.49 232.70,154.95 232.85,155.69 233.00,154.73 233.15,154.36 233.30,155.87 233.45,157.91 233.60,156.10 233.75,157.50 233.90,159.33 234.05,159.75 234.20,155.22 234.35,157.51 234.50,156.98 234.65,156.11 234.80,158.48 234.95,155.42 235.10,149.83 235.25,154.71 235.40,153.63 235.55,155.46 235.70,156.21 235.85,156.76 236.00,155.05 236.15,156.42 236.30,157.36 236.45,153.99 236.60,151.90 236.75,155.72 236.90,154.89 237.05,152.60 237.20,155.98 237.35,154.45 237.50,154.19 237.65,158.65 237.80,153.34 237.95,155.09 238.10,154.22 238.25,155.13 238.40,155.65 238.55,153.14 238.70,154.09 238.85,154.73 239.00,153.40 239.15,156.19 239.30,155.40 239.45,154.75 239.60,155.39 239.75,153.98 239.90,155.16 240.05,154.48 240.20,156.81 240.35,150.00 240.50,151.69 240.65,154.40 240.80,151.86 240.95,154.62 241.10,153.43 241.25,156.32 241.40,155.64 241.55,158.07 241.70,157.50 241.85,160.01 242.00,157.01 242.15,157.65 242.30,156.26 242.45,154.26 242.60,153.48 242.75,152.38 242.90,155.93 243.05,150.94 243.20,155.07 243.35,153.47 243.50,156.72 243.65,156.13 243.80,154.81 243.95,156.17 244.10,154.58 244.25,161.11 244.40,168.65 244.55,161.15 244.70,165.59 244.85,163.77 245.00,164.57 245.15,161.69 245.30,164.08 245.45,163.54 245.60,162.73 245.75,161.16 245.90,164.56 246.05,165.77 246.20,165.56 246.35,166.86 246.50,164.39 246.65,164.83 246.80,164.45 246.95,162.81 247.10,167.14 247.25,163.94 247.40,162.11 247.55,165.47 247.70,162.74 247.85,165.14 248.00,165.64 248.15,164.02 248.30,163.79 248.45,162.46 248.60,164.14 248.75,162.25 248.90,166.67 249.05,164.76 249.20,164.30 249.35,162.36 249.50,167.66 249.65,169.28 249.80,165.88 249.95,165.41 250.10,165.07 250.25,163.33 250.40,167.23 250.55,164.59 250.70,160.91 250.85,162.38 251.00,159.26 251.15,165.50 251.30,165.92 251.45,166.85 251.60,169.17 251.75,164.18 251.90,165.99 252.05,166.68 252.20,166.22 252.35,163.78 252.50,165.63 252.65,165.89 252.80,166.68 252.95,164.36 253.10,164.33 253.25,163.20 253.40,166.16 253.55,165.15 253.70,166.56 253.85,162.63 254.00,167.20 254.15,168.38 254.30,167.92 254.45,166.09 254.60,163.01 254.75,166.03 254.90,167.03 255.05,163.29 255.20,160.41 255.35,164.61 255.50,164.54 255.65,165.29 255.80,164.60 255.95,166.35 256.10,164.22 256.25,165.46 256.40,165.33 256.55,163.30 256.70,167.95 256.85,166.43 257.00,167.66 257.15,166.08 257.30,167.93 257.45,167.79 257.60,167.19 257.75,164.36 257.90,168.50 258.05,167.88 258.20,166.33 258.35,166.23 258.50,166.12 258.65,165.76 258.80,164.56 258.95,165.75 259.10,166.46 259.25,165.05 259.40,163.86 259.55,169.11 259.70,166.82 259.85,165.39 260.00,164.97 260.15,161.32 260.30,163.70 260.45,165.55 260.60,167.90 260.75,163.05 260.90,164.84 261.05,169.13 261.20,166.86 261.35,166.57 261.50,167.30 261.65,165.85 261.80,166.32 261.95,166.77 262.10,167.26 262.25,163.81 262.40,167.69 262.55,161.26 262.70,162.42 262.85,169.32 263.00,164.22 263.15,166.48 263.30,164.03 263.45,164.31 263.60,163.32 263.75,163.85 263.90,166.51 264.05,167.60 264.20,162.87 264.35,166.90 264.50,163.05 264.65,165.60 264.80,164.49 264.95,156.81 265.10,161.74 265.25,162.40 265.40,165.11 265.55,164.09 265.70,163.64 265.85,161.89 266.00,163.38 266.15,164.28 266.30,169.57 266.45,162.12 266.60,162.29 266.75,163.24 266.90,160.34 267.05,163.29 267.20,162.01 267.35,162.07 267.50,159.09 267.65,160.56 267.80,161.28 267.95,162.33 268.10,161.41 268.25,163.39 268.40,162.57 268.55,162.61 268.70,159.08 268.85,164.73 269.00,161.10 269.15,162.60 269.30,159.89 269.45,161.49 269.60,163.17 269.75,161.82 269.90,162.94 270.05,161.37 270.20,165.56 270.35,158.89 270.50,160.62 270.65,163.05 270.80,161.10 270.95,160.95 271.10,158.41 271.25,163.26 271.40,158.40 271.55,162.86 271.70,162.33 271.85,163.30 272.00,163.60 272.15,160.54 272.30,157.27 272.45,161.34 272.60,158.46 272.75,162.87 272.90,161.78 273.05,161.54 273.20,158.99 273.35,161.20 273.50,159.53 273.65,158.74 273.80,159.11 273.95,162.71 274.10,159.90 274.25,156.83 274.40,162.05 274.55,161.12 274.70,159.74 274.85,167.04 275.00,160.77 275.15,158.51 275.30,160.14 275.45,161.71 275.60,160.29 275.75,162.42 275.90,161.90 276.05,161.78 276.20,160.77 276.35,162.52 276.50,160.16 276.65,160.71 276.80,162.99 276.95,161.74 277.10,157.74 277.25,160.99 277.40,160.62 277.55,161.01 277.70,159.15 277.85,163.68 278.00,159.32 278.15,158.82 278.30,160.22 278.45,157.03 278.60,159.97 278.75,162.66 278.90,159.12 279.05,164.08 279.20,162.92 279.35,161.94 279.50,161.96 279.65,162.39 279.80,160.83 279.95,162.36 280.10,161.20 280.25,166.37 280.40,162.83 280.55,161.67 280.70,161.95 280.85,163.78 281.00,158.94 281.15,160.28 281.30,163.62 281.45,158.73 281.60,160.53 281.75,163.10 281.90,163.34 282.05,158.91 282.20,163.76 282.35,160.27 282.50,164.15 282.65,162.30 282.80,161.51 282.95,162.86 283.10,163.03 283.25,160.60 283.40,165.56 283.55,160.58 283.70,162.89 283.85,160.05 284.00,158.01 284.15,163.07 284.30,161.07 284.45,162.86 284.60,164.49 284.75,162.04 284.90,160.99 285.05,159.45 285.20,161.39 285.35,162.25 285.50,157.21 285.65,163.46 285.80,162.65 285.95,160.77 286.10,159.34 286.25,161.91 286.40,161.90 286.55,160.11 286.70,160.92 286.85,160.89 287.00,162.87 287.15,162.82 287.30,163.93 287.45,161.29 287.60,159.33 287.75,162.81 287.90,162.77 288.05,163.09 288.20,163.64 288.35,160.56 288.50,163.00 288.65,160.00 288.80,162.23 288.95,163.71 289.10,162.46 289.25,163.12 289.40,160.07 289.55,160.79 289.70,162.23 289.85,159.97 290.00,160.73 290.15,165.79 290.30,162.01 290.45,159.99 290.60,160.39 290.75,164.35 290.90,158.20 291.05,162.09 291.20,163.78 291.35,161.87 291.50,163.67 291.65,161.34 291.80,162.16 291.95,161.64 292.10,162.46 292.25,163.38 292.40,163.63 292.55,164.84 292.70,163.39 292.85,162.47 293.00,163.64 293.15,162.97 293.30,160.98 293.45,159.58 293.60,160.70 293.75,164.01 293.90,162.27 294.05,162.62 294.20,168.20 294.35,165.08 294.50,162.05 294.65,161.16 294.80,164.76 294.95,161.18 295.10,165.31 295.25,164.49 295.40,165.98 295.55,162.71 295.70,165.58 295.85,160.82 296.00,163.96 296.15,166.89 296.30,165.51 296.45,160.66 296.60,165.77 296.75,165.27 296.90,164.21 297.05,163.36 297.20,163.29 297.35,162.06 297.50,164.67 297.65,164.54 297.80,165.23 297.95,163.57 298.10,160.16 298.25,162.54 298.40,166.71 298.55,160.82 298.70,163.75 298.85,161.52 299.00,161.30 299.15,155.51 299.30,164.41 299.45,163.09 299.60,162.64 299.75,164.52 299.90,159.70 300.05,164.11 300.20,162.28 300.35,161.47 300.50,161.59 300.65,159.35 300.80,163.63 300.95,160.43 301.10,159.28 301.25,162.76 301.40,161.88 301.55,162.06 301.70,165.24 301.85,163.32 302.00,161.54 302.15,164.72 302.30,158.34 302.45,161.94 302.60,163.69 302.75,164.87 302.90,166.38 303.05,161.32 303.20,163.02 303.35,161.60 303.50,160.54 303.65,159.82 303.80,158.29 303.95,161.54 304.10,161.63 304.25,159.00 304.40,162.32 304.55,159.98 304.70,159.41 304.85,156.15 305.00,163.27 305.15,158.93 305.30,160.93 305.45,162.63 305.60,160.62 305.75,161.33 305.90,159.76 306.05,160.86 306.20,155.02 306.35,157.73 306.50,157.30 306.65,161.13 306.80,157.05 306.95,161.08 307.10,162.75 307.25,159.34 307.40,162.30 307.55,161.10 307.70,161.31 307.85,158.81 308.00,158.99 308.15,160.79 308.30,162.66 308.45,160.57 308.60,160.33 308.75,157.66 308.90,160.64 309.05,159.18 309.20,160.54 309.35,161.88 309.50,158.02 309.65,161.35 309.80,159.45 309.95,159.44 310.10,161.92 310.25,158.17 310.40,159.14 310.55,161.34 310.70,159.11 310.85,159.59 311.00,160.00 311.15,162.13 311.30,160.29 311.45,156.08 311.60,158.66 311.75,159.35 311.90,160.46 312.05,159.46 312.20,162.16 312.35,160.77 312.50,156.45 312.65,156.73 312.80,155.16 312.95,161.98 313.10,158.57 313.25,158.75 313.40,156.07 313.55,160.99 313.70,161.44 313.85,157.27 314.00,156.60 314.15,156.17 314.30,160.19 314.45,155.93 314.60,154.13 314.75,156.99 314.90,157.68 315.05,158.70 315.20,158.49 315.35,156.95 315.50,158.18 315.65,158.75 315.80,155.22 315.95,161.11 316.10,160.90 316.25,154.24 316.40,157.14 316.55,160.01 316.70,160.57 316.85,160.62 317.00,154.85 317.15,155.43 317.30,156.90 317.45,158.30 317.60,155.89 317.75,157.86 317.90,158.38 318.05,159.05 318.20,154.59 318.35,157.20 318.50,153.54 318.65,156.02 318.80,158.16 318.95,156.16 319.10,159.24 319.25,155.93 319.40,160.32 319.55,159.46 319.70,156.05 319.85,157.69 320.00,157.63 320.15,156.23 320.30,159.26 320.45,158.83 320.60,155.61 320.75,158.45 320.90,159.55 321.05,158.33 321.20,157.42 321.35,162.20 321.50,157.02 321.65,159.26 321.80,160.67 321.95,159.85 322.10,154.43 322.25,157.97 322.40,158.61 322.55,157.95 322.70,159.49 322.85,161.68 323.00,159.66 323.15,160.59 323.30,162.49 323.45,162.16 323.60,156.22 323.75,163.33 323.90,158.46 324.05,161.23 324.20,156.18 324.35,158.01 324.50,157.30 324.65,161.97 324.80,161.40 324.95,160.44 325.10,159.67 325.25,161.79 325.40,159.15 325.55,160.27 325.70,159.80 325.85,161.63 326.00,160.34 326.15,159.27 326.30,161.87 326.45,161.37 326.60,162.47 326.75,159.60 326.90,161.59 327.05,164.83 327.20,160.82 327.35,161.17 327.50,162.96 327.65,161.24 327.80,161.22 327.95,160.42 328.10,160.09 328.25,163.24 328.40,161.38 328.55,159.74 328.70,161.21 328.85,160.89 329.00,162.14 329.15,163.13 329.30,164.74 329.45,158.93 329.60,160.71 329.75,158.78 329.90,162.75 330.05,163.27 330.20,160.65 330.35,159.65 330.50,159.26 330.65,158.32 330.80,162.13 330.95,164.01 331.10,159.01 331.25,163.78 331.40,160.40 331.55,157.90 331.70,162.02 331.85,162.62 332.00,162.48 332.15,160.10 332.30,164.09 332.45,160.51 332.60,162.12 332.75,161.64 332.90,159.53 333.05,157.81 333.20,158.73 333.35,160.53 333.50,162.31 333.65,159.18 333.80,161.62 333.95,165.83 334.10,160.09 334.25,169.87 334.40,162.76 334.55,162.88 334.70,159.98 334.85,163.35 335.00,159.62 335.15,163.33 335.30,160.60 335.45,163.26 335.60,161.08 335.75,162.96 335.90,160.27 336.05,164.02 336.20,164.19 336.35,163.47 336.50,166.07 336.65,163.96 336.80,163.92 336.95,163.36 337.10,164.83 337.25,161.38 337.40,161.37 337.55,162.04 337.70,163.74 337.85,163.77 338.00,164.55 338.15,164.29 338.30,163.10 338.45,163.10 338.60,163.95 338.75,159.14 338.90,165.27 339.05,160.77 339.20,161.48 339.35,162.68 339.50,161.69 339.65,159.18 339.80,161.91 339.95,164.89 340.10,163.56 340.25,163.49 340.40,160.64 340.55,161.57 340.70,163.81 340.85,164.24 341.00,161.92 341.15,164.54 341.30,158.68 341.45,164.42 341.60,160.09 341.75,164.02 341.90,164.94 342.05,168.90 342.20,163.28 342.35,162.71 342.50,163.51 342.65,163.08 342.80,164.86 342.95,163.58 343.10,160.32 343.25,157.86 343.40,162.24 343.55,160.90 343.70,163.96 343.85,159.35 344.00,162.41 344.15,160.59 344.30,160.76 344.45,164.88 344.60,160.86 344.75,159.32 344.90,162.73 345.05,158.27 345.20,153.57 345.35,148.74 345.50,148.55 345.65,146.97 345.80,150.01 345.95,155.33 346.10,155.27 346.25,154.35 346.40,151.04 346.55,153.81 346.70,151.61 346.85,153.10 347.00,156.38 347.15,151.56 347.30,155.62 347.45,153.04 347.60,152.87 347.75,153.81 347.90,156.30 348.05,152.24 348.20,153.84 348.35,153.03 348.50,158.88 348.65,156.18 348.80,155.42 348.95,158.57 349.10,155.91 349.25,151.18 349.40,153.86 349.55,153.65 349.70,159.10 349.85,152.88 350.00,155.64 350.15,153.45 350.30,154.00 350.45,154.45 350.60,153.91 350.75,153.70 350.90,153.17 351.05,153.73 351.20,152.64 351.35,153.46 351.50,155.07 351.65,155.21 351.80,156.11 351.95,155.23 352.10,158.81 352.25,154.57 352.40,154.22 352.55,156.39 352.70,154.22 352.85,154.79 353.00,155.94 353.15,152.17 353.30,153.47 353.45,156.33 353.60,155.55 353.75,153.91 353.90,152.58 354.05,154.98 354.20,151.82 354.35,153.45 354.50,152.62 354.65,155.20 354.80,156.72 354.95,153.83 355.10,154.22 355.25,153.10 355.40,152.87 355.55,153.89 355.70,155.82 355.85,155.19 356.00,156.10 356.15,154.84 356.30,151.93 356.45,157.15 356.60,157.40 356.75,157.57 356.90,163.50 357.05,156.66 357.20,159.21 357.35,153.86 357.50,156.29 357.65,156.14 357.80,155.49 357.95,154.09 358.10,153.76 358.25,152.37 358.40,156.31 358.55,155.49 358.70,153.86 358.85,152.91 359.00,152.46 359.15,157.72 359.30,153.80 359.45,155.10 359.60,152.86 359.75,152.41 359.90,155.99 360.05,153.76 360.20,154.16 360.35,156.90 360.50,158.24 360.65,156.57 360.80,156.25 360.95,155.60 361.10,155.11 361.25,159.20 361.40,152.83 361.55,154.19 361.70,151.07 361.85,151.15 362.00,153.97 362.15,154.22 362.30,154.26 362.45,154.38 362.60,153.40 362.75,153.06 362.90,153.61 363.05,155.68 363.20,150.97 363.35,156.09 363.50,154.28 363.65,153.49 363.80,154.92 363.95,153.62 364.10,151.13 364.25,156.39 364.40,153.30 364.55,153.57 364.70,152.49 364.85,152.01 365.00,155.10 365.15,152.39 365.30,153.89 365.45,154.53 365.60,156.22 365.75,153.74 365.90,153.60 366.05,153.13 366.20,155.78 366.35,156.24 366.50,153.68 366.65,154.85 366.80,153.39 366.95,151.08 367.10,152.12 367.25,151.60 367.40,156.86 367.55,156.56 367.70,154.27 367.85,153.76 368.00,155.08 368.15,155.30 368.30,151.91 368.45,155.73 368.60,153.56 368.75,155.99 368.90,155.10 369.05,155.94 369.20,160.65 369.35,156.61 369.50,153.66 369.65,154.12 369.80,156.41 369.95,157.28 370.10,153.62 370.25,152.83 370.40,157.88 370.55,160.08 370.70,158.08 370.85,156.37 371.00,157.62 371.15,152.04 371.30,154.51 371.45,157.77 371.60,157.11 371.75,151.77 371.90,157.99 372.05,158.00 372.20,158.01 372.35,156.11 372.50,156.70 372.65,154.52 372.80,157.77 372.95,158.04 373.10,155.15 373.25,157.99 373.40,155.49 373.55,158.03 373.70,156.98 373.85,151.15 374.00,155.88 374.15,157.55 374.30,154.34 374.45,155.27 374.60,155.55 374.75,154.26 374.90,156.83 375.05,160.45 375.20,157.59 375.35,159.69 375.50,158.26 375.65,158.57 375.80,156.66 375.95,158.57 376.10,163.67 376.25,158.77 376.40,157.47 376.55,155.66 376.70,154.85 376.85,156.64 377.00,157.82 377.15,158.75 377.30,156.47 377.45,156.32 377.60,155.98 377.75,154.74 377.90,160.63 378.05,157.95 378.20,154.60 378.35,155.95 378.50,158.71 378.65,158.64 378.80,157.68 378.95,156.77 379.10,156.06 379.25,155.77 379.40,154.83 379.55,156.89 379.70,150.66 379.85,153.86 380.00,157.92 380.15,155.03 380.30,153.75 380.45,160.24 380.60,158.52 380.75,156.59 380.90,155.87 381.05,156.96 381.20,156.61 381.35,156.66 381.50,155.91 381.65,158.13 381.80,155.94 381.95,153.31 382.10,154.15 382.25,156.88 382.40,154.93 382.55,151.99 382.70,159.38 382.85,157.07 383.00,157.02 383.15,156.23 383.30,158.49 383.45,160.49 383.60,156.85 383.75,157.39 383.90,155.29 384.05,156.65 384.20,154.75 384.35,153.33 384.50,158.84 384.65,157.07 384.80,158.47 384.95,156.11 385.10,160.28 385.25,158.44 385.40,160.13 385.55,155.86 385.70,158.68 385.85,156.22 386.00,156.66 386.15,158.25 386.30,154.07 386.45,155.13 386.60,159.81 386.75,154.73 386.90,155.73 387.05,157.11 387.20,159.80 387.35,157.01 387.50,158.34 387.65,155.31 387.80,156.83 387.95,159.22 388.10,158.55 388.25,158.24 388.40,158.68 388.55,157.96 388.70,157.79 388.85,157.17 389.00,156.05 389.15,159.60 389.30,156.73 389.45,161.31 389.60,162.89 389.75,161.29 389.90,162.37 390.05,156.66 390.20,158.03 390.35,156.59 390.50,156.62 390.65,155.19 390.80,155.96 390.95,160.75 391.10,160.71 391.25,161.71 391.40,161.52 391.55,160.62 391.70,157.70 391.85,159.19 392.00,160.05 392.15,161.16 392.30,158.05 392.45,158.43 392.60,158.97 392.75,161.57 392.90,160.14 393.05,158.72 393.20,158.33 393.35,160.10 393.50,156.66 393.65,158.80 393.80,158.19 393.95,157.81 394.10,159.82 394.25,160.64 394.40,165.15 394.55,160.86 394.70,162.55 394.85,159.79 395.00,157.72 395.15,162.40 395.30,163.89 395.45,158.18 395.60,159.53 395.75,161.31 395.90,159.72 396.05,155.88 396.20,161.46 396.35,159.56 396.50,160.76 396.65,157.55 396.80,161.10 396.95,161.35 397.10,158.18 397.25,160.22 397.40,157.30 397.55,157.35 397.70,156.65 397.85,157.52 398.00,157.72 398.15,159.74 398.30,158.21 398.45,157.13 398.60,161.36 398.75,158.75 398.90,160.44 399.05,158.19 399.20,159.94 399.35,158.22 399.50,155.67 399.65,156.83 399.80,157.18 399.95,157.94 400.10,160.74 400.25,156.16 400.40,157.45 400.55,155.65 400.70,157.20 400.85,158.64 401.00,157.38 401.15,156.30 401.30,158.77 401.45,157.12 401.60,158.63 401.75,158.89 401.90,156.25 402.05,154.92 402.20,157.34 402.35,157.24 402.50,156.31 402.65,154.46 402.80,152.84 402.95,154.86 403.10,153.72 403.25,157.22 403.40,156.26 403.55,156.89 403.70,155.79 403.85,158.31 404.00,155.37 404.15,155.90 404.30,154.63 404.45,156.45 404.60,157.91 404.75,156.94 404.90,157.25 405.05,153.99 405.20,155.63 405.35,158.37 405.50,155.72 405.65,153.97 405.80,154.66 405.95,153.84 406.10,154.59 406.25,156.87 406.40,154.86 406.55,154.73 406.70,152.77 406.85,152.29 407.00,155.26 407.15,153.96 407.30,154.89 407.45,153.21 407.60,154.60 407.75,153.90 407.90,154.64 408.05,156.68 408.20,152.66 408.35,154.34 408.50,153.22 408.65,154.62 408.80,152.70 408.95,154.24 409.10,151.79 409.25,150.46 409.40,150.07 409.55,150.51 409.70,149.48 409.85,150.10 410.00,153.58 410.15,150.17 410.30,152.82 410.45,152.93 410.60,150.82 410.75,152.24 410.90,154.60 411.05,153.98 411.20,152.45 411.35,152.41 411.50,151.77 411.65,149.99 411.80,152.73 411.95,152.80 412.10,156.17 412.25,151.62 412.40,150.95 412.55,155.10 412.70,153.37 412.85,152.95 413.00,154.44 413.15,156.82 413.30,153.89 413.45,154.08 413.60,149.92 413.75,154.05 413.90,149.43 414.05,156.74 414.20,162.09 414.35,152.34 414.50,155.20 414.65,153.32 414.80,154.06 414.95,155.27 415.10,154.56 415.25,158.51 415.40,154.80 415.55,153.35 415.70,153.82 415.85,153.02 416.00,151.21 416.15,157.12 416.30,156.26 416.45,150.50 416.60,155.32 416.75,155.71 416.90,151.34 417.05,153.46 417.20,154.90 417.35,158.19 417.50,157.38 417.65,156.77 417.80,159.20 417.95,156.55 418.10,152.59 418.25,155.41 418.40,156.68 418.55,152.93 418.70,155.19 418.85,157.12 419.00,156.50 419.15,157.48 419.30,154.53 419.45,155.79 419.60,156.00 419.75,158.93 419.90,154.01 420.05,155.11 420.20,153.32 420.35,156.50 420.50,157.20 420.65,154.80 420.80,154.20 420.95,156.32 421.10,158.48 421.25,155.25 421.40,157.77 421.55,157.89 421.70,158.67 421.85,160.55 422.00,159.16 422.15,160.58 422.30,159.80 422.45,159.39 422.60,154.22 422.75,157.53 422.90,154.59 423.05,156.23 423.20,154.66 423.35,155.03 423.50,157.32 423.65,155.19 423.80,156.35 423.95,156.72 424.10,158.48 424.25,157.25 424.40,158.34 424.55,160.21 424.70,158.88 424.85,154.87 425.00,153.60 425.15,155.41 425.30,156.25 425.45,153.35 425.60,156.83 425.75,156.45 425.90,157.52 426.05,161.00 426.20,161.40 426.35,156.07 426.50,157.86 426.65,157.05 426.80,154.36 426.95,159.14 427.10,157.61 427.25,156.61 427.40,158.61 427.55,153.98 427.70,160.71 427.85,157.20 428.00,159.67 428.15,158.33 428.30,159.27 428.45,159.49 428.60,156.43 428.75,156.52 428.90,158.54 429.05,157.66 429.20,159.37 429.35,158.11 429.50,157.08 429.65,158.98 429.80,159.85 429.95,157.92 430.10,161.12 430.25,160.07 430.40,160.11 430.55,160.60 430.70,157.81 430.85,162.79 431.00,158.69 431.15,160.42 431.30,161.13 431.45,160.78 431.60,160.41 431.75,158.99 431.90,159.66 432.05,160.98 432.20,162.44 432.35,159.65 432.50,160.71 432.65,160.06 432.80,159.61 432.95,157.60 433.10,159.36 433.25,156.76 433.40,159.40 433.55,160.76 433.70,159.99 433.85,161.05 434.00,160.99 434.15,157.94 434.30,161.33 434.45,159.39 434.60,163.45 434.75,158.06 434.90,158.45 435.05,159.72 435.20,162.45 435.35,164.35 435.50,161.73 435.65,161.03 435.80,164.52 435.95,163.27 436.10,161.45 436.25,160.60 436.40,157.24 436.55,160.11 436.70,163.16 436.85,158.21 437.00,158.78 437.15,163.04 437.30,157.41 437.45,164.06 437.60,156.37 437.75,160.92 437.90,161.61 438.05,163.15 438.20,162.07 438.35,157.28 438.50,156.58 438.65,160.28 438.80,156.42 438.95,159.48 439.10,159.64 439.25,162.51 439.40,163.59 439.55,158.01 439.70,162.42 439.85,163.10 440.00,160.58 440.15,161.19 440.30,167.08 440.45,161.18 440.60,162.44 440.75,163.62 440.90,163.13 441.05,160.21 441.20,159.39 441.35,162.77 441.50,156.65 441.65,159.02 441.80,162.83 441.95,165.01 442.10,159.56 442.25,161.05 442.40,158.81 442.55,160.26 442.70,160.81 442.85,159.43 443.00,162.00 443.15,161.04 443.30,161.93 443.45,161.37 443.60,159.23 443.75,161.81 443.90,163.68 444.05,162.30 444.20,164.13 444.35,155.28 444.50,161.15 444.65,161.78 444.80,160.50 444.95,159.71 445.10,161.87 445.25,162.99 445.40,161.25 445.55,161.96 445.70,162.05 445.85,162.87 446.00,166.61 446.15,162.27 446.30,162.63 446.45,162.33 446.60,162.50 446.75,162.96 446.90,159.00 447.05,157.62 447.20,163.83 447.35,158.52 447.50,164.29 447.65,160.57 447.80,160.86 447.95,161.92 448.10,161.73 448.25,160.52 448.40,161.12 448.55,161.85 448.70,159.44 448.85,163.60 449.00,161.50 449.15,156.93 449.30,162.52 449.45,159.98 449.60,160.91 449.75,164.67 449.90,162.59 450.05,158.53 450.20,158.67 450.35,160.02 450.50,161.65 450.65,157.59 450.80,160.90 450.95,158.89 451.10,158.65 451.25,158.33 451.40,161.57 451.55,156.58 451.70,156.71 451.85,160.57 452.00,160.57 452.15,157.02 452.30,157.79 452.45,157.76 452.60,160.58 452.75,157.76 452.90,160.12 453.05,159.25 453.20,158.86 453.35,158.05 453.50,158.42 453.65,158.75 453.80,157.85 453.95,158.50 454.10,159.25 454.25,157.03 454.40,158.92 454.55,157.05 454.70,156.30 454.85,157.71 455.00,160.15 455.15,159.62 455.30,154.18 455.45,157.62 455.60,156.64 455.75,156.48 455.90,155.97 456.05,156.94 456.20,156.52 456.35,157.41 456.50,158.21 456.65,155.56 456.80,155.00 456.95,155.37 457.10,155.33 457.25,157.92 457.40,154.22 457.55,155.85 457.70,156.88 457.85,159.30 458.00,158.23 458.15,159.41 458.30,161.89 458.45,157.45 458.60,155.05 458.75,153.89 458.90,156.44 459.05,158.36 459.20,156.78 459.35,156.92 459.50,160.55 459.65,156.94 459.80,158.84 459.95,151.91 460.10,156.80 460.25,154.74 460.40,155.93 460.55,156.89 460.70,155.44 460.85,155.35 461.00,150.71 461.15,156.84 461.30,157.78 461.45,155.92 461.60,155.38 461.75,156.12 461.90,156.90 462.05,156.34 462.20,159.07 462.35,154.55 462.50,154.34 462.65,157.80 462.80,159.34 462.95,157.39 463.10,157.26 463.25,156.58 463.40,154.72 463.55,155.13 463.70,153.35 463.85,156.95 464.00,156.95 464.15,158.06 464.30,154.92 464.45,156.16 464.60,155.44 464.75,156.09 464.90,159.71 465.05,162.54 465.20,155.83 465.35,157.40 465.50,158.81 465.65,152.86 465.80,157.99 465.95,156.46 466.10,156.51 466.25,158.86 466.40,157.06 466.55,155.94 466.70,159.29 466.85,158.74 467.00,157.16 467.15,157.30 467.30,157.16 467.45,157.38 467.60,158.20 467.75,159.55 467.90,158.07 468.05,157.71 468.20,155.33 468.35,158.73 468.50,157.74 468.65,160.49 468.80,157.44 468.95,159.00 469.10,157.61 469.25,155.93 469.40,156.65 469.55,157.80 469.70,160.37 469.85,158.11 470.00,159.31 470.15,160.24 470.30,160.51 470.45,159.59 470.60,160.50 470.75,156.76 470.90,157.89 471.05,159.66 471.20,161.64 471.35,159.82 471.50,157.70 471.65,158.40 471.80,156.73 471.95,160.96 472.10,156.52 472.25,159.47 472.40,160.69 472.55,160.17 472.70,156.27 472.85,158.13 473.00,157.87 473.15,158.79 473.30,161.72 473.45,159.74 473.60,157.26 473.75,164.63 473.90,160.57 474.05,160.28 474.20,161.77 474.35,156.41 474.50,158.47 474.65,158.39 474.80,160.61 474.95,158.28 475.10,159.64 475.25,161.49 475.40,156.63 475.55,158.77 475.70,162.47 475.85,159.83 476.00,160.82 476.15,161.70 476.30,158.04 476.45,156.66 476.60,156.98 476.75,160.77 476.90,158.55 477.05,158.90 477.20,152.00 477.35,161.95 477.50,161.59 477.65,159.54 477.80,162.54 477.95,156.30 478.10,160.53 478.25,157.14 478.40,164.63 478.55,154.25 478.70,156.49 478.85,157.09 479.00,159.59 479.15,159.85 479.30,159.77 479.45,158.97 479.60,163.61 479.75,158.21 479.90,160.20 480.05,162.50 480.20,157.75 480.35,157.92 480.50,161.03 480.65,163.56 480.80,156.08 480.95,158.49 481.10,161.44 481.25,158.00 481.40,160.46 481.55,159.65 481.70,158.03 481.85,161.98 482.00,160.54 482.15,160.30 482.30,158.50 482.45,158.38 482.60,158.03 482.75,158.47 482.90,155.29 483.05,157.32 483.20,159.64 483.35,155.51 483.50,150.27 483.65,157.40 483.80,157.00 483.95,155.73 484.10,156.81 484.25,159.05 484.40,157.46 484.55,156.59 484.70,160.53 484.85,154.91 485.00,159.01 485.15,157.98 485.30,154.94 485.45,156.54 485.60,156.86 485.75,160.31 485.90,163.97 486.05,156.31 486.20,151.33 486.35,153.98 486.50,157.11 486.65,155.15 486.80,157.18 486.95,157.08 487.10,157.48 487.25,159.54 487.40,157.71 487.55,158.72 487.70,157.12 487.85,159.04 488.00,157.92 488.15,159.50 488.30,158.56 488.45,155.37 488.60,155.51 488.75,159.08 488.90,159.57 489.05,156.99 489.20,160.66 489.35,158.40 489.50,157.50 489.65,158.41 489.80,154.99 489.95,154.78 490.10,156.79 490.25,154.83 490.40,156.90 490.55,157.43 490.70,152.89 490.85,156.52 491.00,159.58 491.15,155.31 491.30,157.52 491.45,155.91 491.60,155.27 491.75,160.93 491.90,162.68 492.05,156.67 492.20,156.65 492.35,160.51 492.50,159.77 492.65,157.61 492.80,159.19 492.95,158.71 493.10,156.50 493.25,158.69 493.40,156.57 493.55,158.61 493.70,157.74 493.85,155.36 494.00,156.83 494.15,157.99 494.30,159.08 494.45,157.90 494.60,159.18 494.75,158.71 494.90,156.49 495.05,156.97 495.20,158.21 495.35,159.42 495.50,162.07 495.65,158.66 495.80,160.43 495.95,158.68 496.10,155.65 496.25,157.76 496.40,153.80 496.55,157.39 496.70,157.81 496.85,157.49 497.00,155.35 497.15,157.99 497.30,157.04 497.45,157.67 497.60,157.60 497.75,155.64 497.90,154.14 498.05,157.38 498.20,157.20 498.35,156.35 498.50,155.82 498.65,159.56 498.80,156.84 498.95,156.18 499.10,157.79 499.25,156.59 499.40,157.78 499.55,156.68 499.70,157.48 499.85,156.30 500.00,154.72 500.15,156.10 500.30,157.44 500.45,153.51 500.60,155.15 500.75,148.58 500.90,157.35 501.05,155.24 501.20,157.47 501.35,154.93 501.50,158.16 501.65,156.15 501.80,156.28 501.95,156.90 502.10,154.71 502.25,154.05 502.40,156.34 502.55,154.06 502.70,160.84 502.85,158.93 503.00,154.04 503.15,154.68 503.30,153.40 503.45,157.45 503.60,156.47 503.75,155.62 503.90,155.27 504.05,155.60 504.20,152.72 504.35,151.46 504.50,155.44 504.65,154.90 504.80,157.10 504.95,154.89 505.10,156.33 505.25,153.58 505.40,153.67 505.55,152.90 505.70,153.57 505.85,155.65 506.00,154.23 506.15,148.69 506.30,156.99 506.45,153.19 506.60,154.26 506.75,152.57 506.90,151.90 507.05,150.79 507.20,151.91 507.35,150.30 507.50,153.93 507.65,152.84 507.80,152.03 507.95,153.47 508.10,155.44 508.25,150.75 508.40,151.27 508.55,151.20 508.70,149.53 508.85,150.68 509.00,150.16 509.15,151.52 509.30,151.26 509.45,151.28 509.60,148.83 509.75,151.17 509.90,148.02 510.05,149.35 510.20,152.14 510.35,151.42 510.50,150.89 510.65,152.34 510.80,150.14 510.95,147.18 511.10,147.12 511.25,147.22 511.40,149.22 511.55,148.13 511.70,148.31 511.85,147.88 512.00,146.82 512.15,154.44 512.30,152.19 512.45,146.48 512.60,151.41 512.75,149.62 512.90,147.58 513.05,152.24 513.20,148.83 513.35,152.02 513.50,153.09 513.65,151.32 513.80,152.22 513.95,154.30 514.10,153.84 514.25,154.22 514.40,153.92 514.55,155.93 514.70,151.51 514.85,151.22 515.00,157.39 515.15,154.96 515.30,156.32 515.45,155.07 515.60,153.62 515.75,154.58 515.90,155.88 516.05,155.96 516.20,156.09 516.35,155.80 516.50,156.53 516.65,157.08 516.80,158.93 516.95,155.67 517.10,156.62 517.25,158.36 517.40,157.92 517.55,153.64 517.70,158.06 517.85,157.61 518.00,157.69 518.15,157.65 518.30,156.75 518.45,159.95 518.60,159.60 518.75,158.07 518.90,159.59 519.05,160.17 519.20,156.94 519.35,157.58 519.50,154.61 519.65,161.02 519.80,159.80 519.95,162.56 520.10,160.45 520.25,158.83 520.40,156.61 520.55,158.48 520.70,162.28 520.85,161.50 521.00,157.51 521.15,163.33 521.30,161.97 521.45,160.31 521.60,158.42 521.75,159.08 521.90,160.05 522.05,159.68 522.20,161.31 522.35,164.44 522.50,163.09 522.65,160.93 522.80,159.39 522.95,158.27 523.10,160.44 523.25,157.69 523.40,162.57 523.55,160.78 523.70,162.65 523.85,160.64 524.00,161.65 524.15,161.41 524.30,162.22 524.45,164.18 524.60,162.74 524.75,161.10 524.90,160.92 525.05,163.25 525.20,162.03 525.35,162.89 525.50,159.55 525.65,163.80 525.80,161.62 525.95,160.93 526.10,162.12 526.25,159.63 526.40,160.61 526.55,161.33 526.70,163.41 526.85,159.53 527.00,162.60 527.15,161.34 527.30,163.70 527.45,161.76 527.60,163.02 527.75,162.73 527.90,159.70 528.05,160.33 528.20,159.65 528.35,161.63 528.50,163.71 528.65,163.30 528.80,164.06 528.95,160.99 529.10,159.84 529.25,161.39 529.40,160.95 529.55,160.86 529.70,160.63 529.85,164.24 530.00,164.78 530.15,161.59 530.30,161.79 530.45,159.38 530.60,160.17 530.75,162.81 530.90,159.48 531.05,162.11 531.20,161.54 531.35,163.72 531.50,161.86 531.65,160.44 531.80,163.36 531.95,164.34 532.10,162.27 532.25,163.00 532.40,158.71 532.55,162.08 532.70,165.07 532.85,162.25 533.00,160.64 533.15,163.21 533.30,162.71 533.45,161.87 533.60,164.05 533.75,158.43 533.90,163.59 534.05,166.44 534.20,163.58 534.35,160.01 534.50,164.73 534.65,161.76 534.80,162.84 534.95,160.61 535.10,161.64 535.25,162.02 535.40,163.05 535.55,165.09 535.70,164.30 535.85,159.44 536.00,163.49 536.15,163.81 536.30,166.12 536.45,162.10 536.60,161.14 536.75,161.03 536.90,161.75 537.05,158.54 537.20,163.39 537.35,161.19 537.50,163.29 537.65,163.19 537.80,160.93 537.95,165.06 538.10,169.24 538.25,160.45 538.40,161.49 538.55,163.39 538.70,161.48 538.85,159.92 539.00,161.64 539.15,160.17 539.30,160.60 539.45,154.15 539.60,162.10 539.75,164.25 539.90,162.40 540.05,161.79 540.20,161.39 540.35,159.79 540.50,162.20 540.65,160.76 540.80,160.43 540.95,160.49 541.10,158.42 541.25,159.49 541.40,161.20 541.55,161.27 541.70,159.41 541.85,161.02 542.00,160.10 542.15,155.88 542.30,156.78 542.45,158.79 542.60,157.31 542.75,160.55 542.90,157.07 543.05,158.70 543.20,158.00 543.35,157.49 543.50,157.69 543.65,157.77 543.80,157.60 543.95,156.06 544.10,156.81 544.25,157.81 544.40,156.82 544.55,155.38 544.70,155.64 544.85,156.72 545.00,157.46 545.15,157.66 545.30,162.28 545.45,159.75 545.60,157.39 545.75,158.20 545.90,157.60 546.05,158.99 546.20,159.27 546.35,154.35 546.50,159.84 546.65,155.26 546.80,156.43 546.95,155.22 547.10,153.38 547.25,153.08 547.40,159.26 547.55,158.49 547.70,154.37 547.85,153.51 548.00,158.42 548.15,154.10 548.30,156.81 548.45,159.89 548.60,158.26 548.75,159.59 548.90,157.75 549.05,154.53 549.20,155.93 549.35,154.42 549.50,157.87 549.65,154.07 549.80,156.57 549.95,156.31 550.10,156.17 550.25,158.35 550.40,157.05 550.55,156.23 550.70,155.96 550.85,158.02 551.00,155.82 551.15,159.43 551.30,154.28 551.45,156.16 551.60,157.52 551.75,155.91 551.90,154.95 552.05,156.66 552.20,158.61 552.35,155.52 552.50,158.35 552.65,156.20 552.80,155.19 552.95,158.75 553.10,155.90 553.25,155.86 553.40,157.03 553.55,157.12 553.70,157.30 553.85,160.41 554.00,156.97 554.15,160.58 554.30,160.26 554.45,161.15 554.60,157.95 554.75,157.68 554.90,158.50 555.05,158.84 555.20,159.32 555.35,159.82 555.50,155.34 555.65,158.98 555.80,158.21 555.95,157.40 556.10,155.90 556.25,159.57 556.40,156.20 556.55,162.56 556.70,160.28 556.85,158.36 557.00,158.95 557.15,159.77 557.30,155.99 557.45,155.74 557.60,158.47 557.75,160.47 557.90,157.99 558.05,157.98 558.20,155.15 558.35,158.10 558.50,161.68 558.65,158.62 558.80,158.12 558.95,159.47 559.10,161.39 559.25,156.49 559.40,161.97 559.55,159.35 559.70,159.65 559.85,159.44 560.00,162.32 560.15,159.15 560.30,161.42 560.45,160.57 560.60,158.07 560.75,159.56 560.90,160.86 561.05,159.28 561.20,159.17 561.35,160.01 561.50,158.92 561.65,158.25 561.80,160.69 561.95,159.08 562.10,161.38 562.25,162.26 562.40,163.38 562.55,162.26 562.70,160.80 562.85,160.87 563.00,159.27 563.15,161.53 563.30,160.16 563.45,162.86 563.60,158.47 563.75,160.69 563.90,159.51 564.05,161.82 564.20,162.11 564.35,159.31 564.50,164.47 564.65,162.67 564.80,159.61 564.95,159.77 565.10,157.80 565.25,158.17 565.40,160.73 565.55,157.18 565.70,161.17 565.85,157.48 566.00,160.22 566.15,164.48 566.30,160.29 566.45,161.33 566.60,163.71 566.75,160.17 566.90,161.46 567.05,160.19 567.20,160.63 567.35,160.68 567.50,159.78 567.65,158.16 567.80,159.67 567.95,160.70 568.10,160.81 568.25,161.66 568.40,158.10 568.55,160.21 568.70,160.23 568.85,158.19 569.00,155.50 569.15,158.68 569.30,161.31 569.45,161.27 569.60,157.41 569.75,161.95 569.90,158.57 570.05,161.13 570.20,157.58 570.35,159.71 570.50,158.83 570.65,158.24 570.80,159.29 570.95,157.98 571.10,158.20 571.25,157.63 571.40,156.95 571.55,160.34 571.70,159.93 571.85,158.07 572.00,155.79 572.15,158.65 572.30,157.97 572.45,159.25 572.60,158.04 572.75,158.20 572.90,161.19 573.05,157.60 573.20,157.20 573.35,153.72 573.50,156.01 573.65,155.65 573.80,156.30 573.95,157.65 574.10,155.91 574.25,157.47 574.40,155.98 574.55,156.36 574.70,154.65 574.85,158.08 575.00,157.68 575.15,155.28 575.30,155.57 575.45,152.89 575.60,155.45 575.75,153.98 575.90,156.57 576.05,156.61 576.20,158.28 576.35,155.14 576.50,153.73 576.65,155.58 576.80,153.71 576.95,158.20 577.10,155.94 577.25,157.33 577.40,156.10 577.55,154.54 577.70,151.95 577.85,154.30 578.00,155.88 578.15,155.05 578.30,156.26 578.45,156.45 578.60,153.89 578.75,156.26 578.90,153.13 579.05,154.26 579.20,157.53 579.35,152.18 579.50,154.61 579.65,154.52 579.80,155.91 579.95,154.18 580.10,152.10 580.25,155.01 580.40,155.42 580.55,151.54 580.70,154.54 580.85,147.77 581.00,150.63 581.15,152.31 581.30,152.18 581.45,149.85 581.60,156.01 581.75,151.44 581.90,155.12 582.05,155.22 582.20,157.59 582.35,153.97 582.50,156.77 582.65,152.17 582.80,153.76 582.95,153.30 583.10,153.46 583.25,155.13 583.40,157.23 583.55,157.15 583.70,154.26 583.85,151.67 584.00,151.78 584.15,154.21 584.30,154.16 584.45,154.36 584.60,152.94 584.75,151.15 584.90,153.99 585.05,153.20 585.20,156.01 585.35,151.92 585.50,153.80 585.65,154.71 585.80,155.41 585.95,155.03 586.10,150.76 586.25,150.70 586.40,152.44 586.55,151.34 586.70,148.77 586.85,155.79 587.00,153.88 587.15,154.61 587.30,152.25 587.45,153.42 587.60,151.84 587.75,150.88 587.90,150.90 588.05,148.26 588.20,152.31 588.35,149.05 588.50,154.67 588.65,151.46 588.80,149.07 588.95,148.80 589.10,150.77 589.25,155.14 589.40,151.86 589.55,148.50 589.70,154.78 589.85,156.65 590.00,150.48 590.15,150.02 590.30,151.71 590.45,152.04 590.60,154.05 590.75,150.94 590.90,149.09 591.05,152.16 591.20,149.83 591.35,151.42 591.50,151.42 591.65,152.81 591.80,153.33 591.95,149.49 592.10,155.62 592.25,151.53 592.40,148.78 592.55,149.65 592.70,151.67 592.85,152.32 593.00,155.26 593.15,152.72 593.30,152.65 593.45,150.15 593.60,151.01 593.75,151.39 593.90,154.12 594.05,151.33 594.20,154.95 594.35,150.90 594.50,154.42 594.65,153.05 594.80,151.25 594.95,154.67 595.10,153.87 595.25,152.03 595.40,150.24 595.55,153.60 595.70,150.77 595.85,152.85 596.00,149.35 596.15,151.34 596.30,149.57 596.45,151.93 596.60,155.10 596.75,155.68 596.90,152.35 597.05,151.64 597.20,144.97 597.35,151.48 597.50,153.66 597.65,149.50 597.80,148.66 597.95,150.90" stroke="#18902c" stroke-width="1.0"/>
<polyline points="80.30,216.32 80.60,215.57 80.90,214.75 81.20,212.99 81.50,211.15 81.80,208.24 82.10,209.49 82.40,206.85 82.70,207.76 83.00,208.22 83.30,206.42 83.60,205.93 83.90,203.12 84.20,202.56 84.50,200.72 84.80,198.22 85.10,196.50 85.40,194.99 85.70,194.45 86.00,192.43 86.30,191.91 86.60,191.51 86.90,192.77 87.20,190.36 87.50,189.02 87.80,186.98 88.10,186.16 88.40,183.91 88.70,183.32 89.00,180.35 89.30,181.22 89.60,179.66 89.90,179.96 90.20,180.05 90.50,178.36 90.80,177.36 91.10,176.43 91.40,175.16 91.70,173.95 92.00,171.06 92.30,168.84 92.60,167.01 92.90,166.90 93.20,165.50 93.50,162.72 93.80,161.43 94.10,158.36 94.40,155.35 94.70,154.57 95.00,149.46 95.30,147.65 95.60,144.42 95.90,144.14 96.20,143.02 96.50,141.08 96.80,140.50 97.10,140.12 97.40,139.47 97.70,137.53 98.00,135.07 98.30,133.92 98.60,131.08 98.90,127.07 99.20,124.45 99.50,123.22 99.80,121.05 100.10,118.80 100.40,117.71 100.70,116.49 101.00,115.27 101.30,114.07 101.60,110.56 101.90,106.49 102.20,103.77 102.50,101.64 102.80,99.66 103.10,97.83 103.40,95.64 103.70,94.56 104.00,91.79 104.30,89.13 104.60,89.78 104.90,86.47 105.20,84.92 105.50,84.09 105.80,80.13 106.10,76.87 106.40,76.01 106.70,73.45 107.00,72.90 107.30,70.17 107.60,69.04 107.90,69.36 108.20,68.71 108.50,69.52 108.80,70.16 109.10,70.30 109.40,69.13 109.70,70.28 110.00,69.26 110.30,70.29 110.60,72.15 110.90,72.89 111.20,72.36 111.50,74.40 111.80,75.35 112.10,75.07 112.40,74.46 112.70,71.19 113.00,67.76 113.30,65.83 113.60,63.40 113.90,63.40 114.20,62.29 114.50,63.07 114.80,62.94 115.10,65.29 115.40,66.42 115.70,68.42 116.00,70.95 116.30,75.72 116.60,75.30 116.90,75.92 117.20,74.59 117.50,73.32 117.80,72.82 118.10,72.19 118.40,73.42 118.70,76.55 119.00,75.93 119.30,78.52 119.60,79.84 119.90,82.24 120.20,82.71 120.50,84.86 120.80,86.63 121.10,86.81 121.40,86.48 121.70,88.81 122.00,89.05 122.30,88.43 122.60,87.50 122.90,87.39 123.20,88.45 123.50,88.55 123.80,88.78 124.10,90.84 124.40,91.84 124.70,92.60 125.00,95.20 125.30,95.31 125.60,95.49 125.90,92.57 126.20,91.64 126.50,89.57 126.80,86.79 127.10,86.31 127.40,84.39 127.70,86.49 128.00,86.42 128.30,86.88 128.60,89.54 128.90,90.40 129.20,91.40 129.50,89.49 129.80,90.81 130.10,89.87 130.40,90.08 130.70,89.03 131.00,90.97 131.30,92.38 131.60,92.33 131.90,91.61 132.20,88.90 132.50,90.03 132.80,87.65 133.10,87.37 133.40,88.49 133.70,86.70 134.00,87.54 134.30,88.77 134.60,88.18 134.90,90.00 135.20,89.40 135.50,91.88 135.80,94.29 136.10,95.66 136.40,96.76 136.70,98.69 137.00,100.38 137.30,101.19 137.60,104.29 137.90,106.61 138.20,105.97 138.50,107.09 138.80,106.77 139.10,105.88 139.40,104.42 139.70,103.36 140.00,102.59 140.30,104.14 140.60,103.68 140.90,105.26 141.20,104.48 141.50,103.28 141.80,103.09 142.10,104.73 142.40,104.74 142.70,103.70 143.00,102.60 143.30,102.54 143.60,100.95 143.90,100.87 144.20,102.36 144.50,103.34 144.80,104.73 145.10,103.16 145.40,105.71 145.70,107.14 146.00,108.20 146.30,109.89 146.60,110.63 146.90,112.70 147.20,115.44 147.50,118.52 147.80,121.80 148.10,124.07 148.40,126.13 148.70,127.17 149.00,130.74 149.30,130.21 149.60,130.06 149.90,129.47 150.20,126.86 150.50,125.51 150.80,126.54 151.10,126.28 151.40,125.22 151.70,126.32 152.00,129.42 152.30,128.20 152.60,128.37 152.90,127.83 153.20,126.95 153.50,127.11 153.80,126.68 154.10,125.61 154.40,126.54 154.70,127.35 155.00,127.13 155.30,126.57 155.60,125.95 155.90,125.24 156.20,125.49 156.50,123.59 156.80,124.38 157.10,125.23 157.40,124.87 157.70,126.86 158.00,124.86 158.30,124.97 158.60,125.49 158.90,126.35 159.20,129.42 159.50,130.28 159.80,132.92 160.10,134.29 160.40,138.09 160.70,141.09 161.00,143.92 161.30,144.12 161.60,144.04 161.90,144.01 162.20,144.25 162.50,142.64 162.80,141.53 163.10,140.79 163.40,140.74 163.70,139.80 164.00,139.35 164.30,139.88 164.60,141.47 164.90,141.30 165.20,141.14 165.50,141.07 165.80,141.45 166.10,141.25 166.40,142.33 166.70,143.06 167.00,144.57 167.30,145.81 167.60,145.07 167.90,147.75 168.20,145.55 168.50,144.83 168.80,145.49 169.10,146.75 169.40,145.21 169.70,144.81 170.00,146.48 170.30,147.18 170.60,147.03 170.90,148.13 171.20,147.70 171.50,146.62 171.80,146.33 172.10,145.19 172.40,144.65 172.70,143.71 173.00,143.26 173.30,142.42 173.60,140.83 173.90,142.11 174.20,140.56 174.50,139.96 174.80,137.65 175.10,136.23 175.40,133.55 175.70,131.64 176.00,128.66 176.30,128.35 176.60,126.10 176.90,127.67 177.20,129.30 177.50,130.39 177.80,130.57 178.10,132.21 178.40,133.75 178.70,135.68 179.00,136.04 179.30,139.60 179.60,138.67 179.90,142.11 180.20,144.17 180.50,146.12 180.80,149.13 181.10,152.24 181.40,150.62 181.70,155.03 182.00,155.77 182.30,158.33 182.60,158.71 182.90,158.61 183.20,159.01 183.50,161.47 183.80,162.61 184.10,164.28 184.40,167.87 184.70,168.70 185.00,169.60 185.30,171.81 185.60,171.26 185.90,170.98 186.20,173.86 186.50,173.12 186.80,170.79 187.10,169.55 187.40,169.80 187.70,168.49 188.00,168.10 188.30,167.82 188.60,165.22 188.90,162.86 189.20,161.01 189.50,159.79 189.80,157.36 190.10,158.91 190.40,158.50 190.70,156.85 191.00,156.20 191.30,155.58 191.60,154.56 191.90,154.81 192.20,153.55 192.50,152.70 192.80,150.62 193.10,150.09 193.40,153.00 193.70,151.74 194.00,152.98 194.30,153.81 194.60,152.20 194.90,153.05 195.20,152.35 195.50,150.45 195.80,152.28 196.10,152.12 196.40,153.34 196.70,153.35 197.00,154.43 197.30,154.72 197.60,156.24 197.90,159.49 198.20,161.04 198.50,162.59 198.80,161.46 199.10,160.25 199.40,159.40 199.70,158.53 200.00,157.36 200.30,155.90 200.60,154.45 200.90,154.04 201.20,152.67 201.50,151.08 201.80,149.36 202.10,147.05 202.40,146.36 202.70,145.60 203.00,144.10 203.30,143.19 203.60,142.65 203.90,142.40 204.20,141.76 204.50,144.67 204.80,141.28 205.10,140.95 205.40,139.28 205.70,137.96 206.00,137.29 206.30,135.99 206.60,133.30 206.90,131.99 207.20,131.49 207.50,129.85 207.80,129.77 208.10,128.29 208.40,127.84 208.70,125.33 209.00,124.67 209.30,123.47 209.60,122.19 209.90,121.44 210.20,120.01 210.50,117.04 210.80,115.71 211.10,115.07 211.40,111.94 211.70,111.87 212.00,109.19 212.30,109.57 212.60,108.72 212.90,107.21 213.20,108.73 213.50,108.92 213.80,109.89 214.10,109.35 214.40,110.04 214.70,110.27 215.00,110.59 215.30,109.39 215.60,110.54 215.90,109.95 216.20,109.11 216.50,110.43 216.80,111.09 217.10,109.65 217.40,109.65 217.70,108.10 218.00,107.35 218.30,106.99 218.60,105.82 218.90,108.53 219.20,108.38 219.50,109.15 219.80,108.41 220.10,108.84 220.40,106.64 220.70,104.74 221.00,105.20 221.30,104.11 221.60,105.07 221.90,105.76 222.20,106.25 222.50,107.92 222.80,107.15 223.10,108.29 223.40,109.81 223.70,111.16 224.00,110.88 224.30,111.35 224.60,112.55 224.90,112.60 225.20,114.94 225.50,117.90 225.80,115.75 226.10,115.43 226.40,116.86 226.70,115.98 227.00,115.75 227.30,115.87 227.60,115.52 227.90,116.44 228.20,118.99 228.50,120.34 228.80,120.16 229.10,120.50 229.40,121.47 229.70,118.47 230.00,120.02 230.30,118.39 230.60,119.64 230.90,119.96 231.20,118.49 231.50,119.05 231.80,118.20 232.10,118.27 232.40,116.05 232.70,116.45 233.00,114.50 233.30,115.82 233.60,115.50 233.90,114.82 234.20,115.00 234.50,113.59 234.80,114.00 235.10,114.83 235.40,113.50 235.70,113.61 236.00,113.81 236.30,115.91 236.60,118.50 236.90,118.51 237.20,120.39 237.50,121.22 237.80,122.20 238.10,121.29 238.40,120.34 238.70,120.84 239.00,119.49 239.30,121.53 239.60,122.39 239.90,124.73 240.20,123.66 240.50,125.47 240.80,128.05 241.10,127.53 241.40,127.65 241.70,128.21 242.00,128.61 242.30,129.19 242.60,130.04 242.90,129.55 243.20,129.66 243.50,130.74 243.80,132.25 244.10,134.85 244.40,137.40 244.70,138.05 245.00,140.10 245.30,141.51 245.60,141.47 245.90,141.66 246.20,141.96 246.50,142.06 246.80,142.34 247.10,141.00 247.40,139.69 247.70,139.27 248.00,137.15 248.30,136.33 248.60,134.88 248.90,135.93 249.20,134.62 249.50,135.46 249.80,134.53 250.10,133.59 250.40,133.37 250.70,134.19 251.00,134.61 251.30,133.62 251.60,132.82 251.90,132.31 252.20,131.09 252.50,130.77 252.80,132.42 253.10,133.98 253.40,133.45 253.70,135.12 254.00,134.62 254.30,132.64 254.60,133.65 254.90,131.65 255.20,130.48 255.50,128.27 255.80,127.22 256.10,124.44 256.40,121.80 256.70,121.94 257.00,120.67 257.30,117.12 257.60,113.97 257.90,110.61 258.20,109.68 258.50,106.78 258.80,106.84 259.10,107.28 259.40,106.33 259.70,105.68 260.00,105.89 260.30,102.46 260.60,102.32 260.90,101.30 261.20,103.60 261.50,105.81 261.80,104.99 262.10,106.24 262.40,106.36 262.70,104.28 263.00,103.86 263.30,102.49 263.60,101.56 263.90,102.69 264.20,101.79 264.50,103.06 264.80,106.34 265.10,108.25 265.40,111.42 265.70,114.21 266.00,115.64 266.30,117.06 266.60,117.95 266.90,117.59 267.20,119.07 267.50,119.64 267.80,118.88 268.10,116.50 268.40,115.07 268.70,114.66 269.00,112.73 269.30,112.00 269.60,112.35 269.90,111.23 270.20,111.65 270.50,113.61 270.80,113.32 271.10,114.47 271.40,114.91 271.70,115.96 272.00,117.62 272.30,116.64 272.60,115.29 272.90,115.39 273.20,115.49 273.50,115.31 273.80,112.47 274.10,111.67 274.40,112.05 274.70,111.32 275.00,109.22 275.30,108.41 275.60,107.98 275.90,106.52 276.20,107.77 276.50,104.49 276.80,102.30 277.10,100.81 277.40,99.82 277.70,100.06 278.00,100.10 278.30,98.50 278.60,96.56 278.90,98.64 279.20,100.36 279.50,99.55 279.80,96.75 280.10,96.53 280.40,97.98 280.70,96.44 281.00,95.60 281.30,94.29 281.60,94.01 281.90,93.19 282.20,91.92 282.50,92.66 282.80,92.73 283.10,92.03 283.40,90.29 283.70,88.33 284.00,88.88 284.30,87.86 284.60,86.21 284.90,86.14 285.20,85.65 285.50,85.79 285.80,85.34 286.10,85.87 286.40,84.55 286.70,84.80 287.00,84.06 287.30,83.48 287.60,83.27 287.90,82.73 288.20,84.37 288.50,85.77 288.80,85.68 289.10,85.58 289.40,85.48 289.70,88.05 290.00,86.80 290.30,85.22 290.60,85.73 290.90,86.98 291.20,85.59 291.50,86.05 291.80,88.89 292.10,89.98 292.40,90.02 292.70,90.16 293.00,90.79 293.30,90.25 293.60,90.36 293.90,90.51 294.20,91.13 294.50,91.31 294.80,92.58 295.10,92.93 295.40,93.13 295.70,94.95 296.00,96.12 296.30,97.89 296.60,99.31 296.90,100.61 297.20,101.17 297.50,101.58 297.80,101.35 298.10,101.44 298.40,100.84 298.70,101.04 299.00,101.88 299.30,102.33 299.60,104.32 299.90,105.71 300.20,106.10 300.50,104.43 300.80,106.24 301.10,104.59 301.40,104.71 301.70,105.40 302.00,105.48 302.30,107.55 302.60,108.90 302.90,109.69 303.20,111.22 303.50,113.26 303.80,115.54 304.10,115.76 304.40,115.27 304.70,115.54 305.00,117.57 305.30,120.54 305.60,122.78 305.90,125.55 306.20,128.07 306.50,130.26 306.80,130.62 307.10,132.92 307.40,134.80 307.70,136.08 308.00,137.77 308.30,138.37 308.60,139.70 308.90,141.51 309.20,142.60 309.50,143.18 309.80,144.38 310.10,142.41 310.40,140.85 310.70,139.81 311.00,137.42 311.30,136.63 311.60,136.37 311.90,134.94 312.20,133.49 312.50,131.75 312.80,133.72 313.10,133.36 313.40,135.86 313.70,133.92 314.00,132.16 314.30,130.98 314.60,130.92 314.90,131.57 315.20,132.14 315.50,135.59 315.80,136.41 316.10,136.78 316.40,137.65 316.70,139.20 317.00,138.47 317.30,141.04 317.60,140.77 317.90,140.16 318.20,140.09 318.50,138.77 318.80,140.02 319.10,138.09 319.40,138.65 319.70,137.31 320.00,137.57 320.30,136.86 320.60,134.61 320.90,133.11 321.20,130.79 321.50,131.08 321.80,129.21 322.10,126.90 322.40,125.81 322.70,126.06 323.00,125.28 323.30,125.98 323.60,125.24 323.90,124.34 324.20,123.89 324.50,123.00 324.80,120.35 325.10,120.54 325.40,120.34 325.70,119.18 326.00,120.74 326.30,120.94 326.60,120.52 326.90,121.70 327.20,120.78 327.50,118.76 327.80,116.86 328.10,117.29 328.40,116.77 328.70,113.04 329.00,111.10 329.30,110.48 329.60,107.88 329.90,107.54 330.20,108.24 330.50,107.48 330.80,107.62 331.10,107.35 331.40,108.36 331.70,108.97 332.00,109.96 332.30,108.39 332.60,109.90 332.90,108.05 333.20,107.44 333.50,107.20 333.80,107.68 334.10,108.21 334.40,110.12 334.70,109.67 335.00,107.81 335.30,106.61 335.60,106.56 335.90,103.65 336.20,104.69 336.50,103.59 336.80,104.94 337.10,105.13 337.40,104.99 337.70,105.28 338.00,106.13 338.30,105.36 338.60,105.47 338.90,105.19 339.20,104.09 339.50,106.00 339.80,107.76 340.10,109.05 340.40,110.44 340.70,112.70 341.00,114.14 341.30,113.81 341.60,116.80 341.90,116.93 342.20,115.60 342.50,117.55 342.80,118.94 343.10,119.26 343.40,120.28 343.70,120.95 344.00,120.54 344.30,121.63 344.60,121.88 344.90,122.13 345.20,120.74 345.50,118.54 345.80,118.59 346.10,118.66 346.40,120.62 346.70,121.03 347.00,122.01 347.30,124.61 347.60,124.09 347.90,124.75 348.20,125.45 348.50,126.34 348.80,127.46 349.10,125.50 349.40,126.98 349.70,123.78 350.00,125.68 350.30,125.14 350.60,126.38 350.90,127.31 351.20,126.84 351.50,128.04 351.80,128.69 352.10,127.38 352.40,127.96 352.70,127.03 353.00,123.49 353.30,124.99 353.60,123.78 353.90,122.86 354.20,122.42 354.50,122.33 354.80,120.33 355.10,119.82 355.40,118.20 355.70,117.82 356.00,114.84 356.30,113.49 356.60,113.78 356.90,113.12 357.20,112.93 357.50,113.66 357.80,113.02 358.10,111.35 358.40,109.99 358.70,109.16 359.00,109.40 359.30,107.17 359.60,107.29 359.90,107.46 360.20,107.87 360.50,107.15 360.80,104.92 361.10,105.18 361.40,104.20 361.70,103.14 362.00,102.05 362.30,101.69 362.60,101.65 362.90,100.82 363.20,99.10 363.50,99.60 363.80,102.18 364.10,102.44 364.40,103.28 364.70,103.45 365.00,104.22 365.30,102.00 365.60,101.20 365.90,100.15 366.20,98.33 366.50,97.08 366.80,97.86 367.10,96.31 367.40,94.98 367.70,95.69 368.00,94.41 368.30,95.48 368.60,93.82 368.90,93.90 369.20,91.64 369.50,93.22 369.80,90.40 370.10,89.50 370.40,91.67 370.70,91.87 371.00,91.65 371.30,93.84 371.60,94.18 371.90,93.64 372.20,94.44 372.50,95.05 372.80,94.85 373.10,93.89 373.40,97.90 373.70,96.86 374.00,99.45 374.30,101.41 374.60,101.62 374.90,101.00 375.20,102.22 375.50,103.79 375.80,104.06 376.10,102.85 376.40,103.24 376.70,102.48 377.00,102.65 377.30,103.27 377.60,105.05 377.90,107.61 378.20,109.64 378.50,111.39 378.80,112.50 379.10,113.65 379.40,113.53 379.70,114.65 380.00,114.09 380.30,116.31 380.60,115.55 380.90,114.88 381.20,115.78 381.50,115.87 381.80,116.14 382.10,116.49 382.40,115.40 382.70,115.10 383.00,113.93 383.30,112.36 383.60,112.06 383.90,109.30 384.20,109.77 384.50,110.72 384.80,112.45 385.10,111.26 385.40,110.60 385.70,109.84 386.00,110.64 386.30,110.16 386.60,109.89 386.90,111.01 387.20,111.70 387.50,111.70 387.80,113.37 388.10,114.65 388.40,115.64 388.70,117.12 389.00,116.60 389.30,117.55 389.60,116.45 389.90,116.55 390.20,120.79 390.50,121.61 390.80,122.43 391.10,123.33 391.40,122.96 391.70,120.58 392.00,120.07 392.30,118.48 392.60,117.13 392.90,115.08 393.20,115.48 393.50,113.64 393.80,113.91 394.10,111.56 394.40,110.51 394.70,108.27 395.00,107.83 395.30,105.99 395.60,106.48 395.90,105.75 396.20,105.17 396.50,106.82 396.80,107.05 397.10,109.20 397.40,108.78 397.70,107.60 398.00,107.28 398.30,107.42 398.60,107.19 398.90,104.86 399.20,106.07 399.50,106.72 399.80,104.59 400.10,105.66 400.40,105.42 400.70,105.08 401.00,104.13 401.30,102.25 401.60,102.64 401.90,101.50 402.20,101.45 402.50,100.63 402.80,101.14 403.10,103.37 403.40,103.76 403.70,104.78 404.00,106.03 404.30,106.86 404.60,105.99 404.90,106.38 405.20,106.04 405.50,105.36 405.80,105.94 406.10,105.23 406.40,107.51 406.70,106.41 407.00,108.65 407.30,109.48 407.60,111.44 407.90,110.25 408.20,111.89 408.50,110.11 408.80,110.41 409.10,111.91 409.40,112.26 409.70,114.46 410.00,113.49 410.30,115.32 410.60,116.81 410.90,116.32 411.20,117.83 411.50,118.61 411.80,119.71 412.10,121.76 412.40,122.57 412.70,123.93 413.00,124.94 413.30,127.11 413.60,128.43 413.90,129.57 414.20,132.46 414.50,133.65 414.80,134.95 415.10,136.56 415.40,136.38 415.70,137.13 416.00,138.63 416.30,139.50 416.60,143.15 416.90,142.17 417.20,144.02 417.50,145.83 417.80,145.81 418.10,143.94 418.40,142.88 418.70,141.34 419.00,139.84 419.30,137.03 419.60,132.97 419.90,131.13 420.20,129.49 420.50,129.91 420.80,131.21 421.10,130.01 421.40,129.42 421.70,131.40 422.00,133.39 422.30,135.15 422.60,135.98 422.90,137.04 423.20,133.00 423.50,134.78 423.80,132.94 424.10,133.41 424.40,134.30 424.70,134.60 425.00,133.29 425.30,132.03 425.60,132.09 425.90,130.86 426.20,129.63 426.50,129.61 426.80,127.36 427.10,126.61 427.40,126.64 427.70,125.24 428.00,124.37 428.30,125.22 428.60,123.42 428.90,123.41 429.20,122.85 429.50,121.23 429.80,120.57 430.10,119.80 430.40,119.96 430.70,118.69 431.00,118.57 431.30,118.31 431.60,117.70 431.90,118.02 432.20,117.23 432.50,115.18 432.80,113.63 433.10,111.29 433.40,108.98 433.70,108.42 434.00,108.63 434.30,108.04 434.60,106.45 434.90,106.64 435.20,106.63 435.50,106.77 435.80,105.26 436.10,103.47 436.40,101.78 436.70,100.53 437.00,99.98 437.30,99.62 437.60,100.15 437.90,100.44 438.20,99.44 438.50,100.68 438.80,99.28 439.10,98.98 439.40,98.18 439.70,96.73 440.00,96.37 440.30,96.68 440.60,96.56 440.90,95.84 441.20,95.81 441.50,94.94 441.80,94.81 442.10,91.60 442.40,91.62 442.70,88.71 443.00,86.57 443.30,87.32 443.60,85.91 443.90,83.84 444.20,82.61 444.50,83.91 444.80,82.96 445.10,84.02 445.40,82.78 445.70,83.51 446.00,83.73 446.30,82.29 446.60,82.92 446.90,84.13 447.20,84.89 447.50,83.89 447.80,83.65 448.10,82.80 448.40,81.74 448.70,81.19 449.00,81.69 449.30,81.16 449.60,81.63 449.90,79.94 450.20,81.85 450.50,82.94 450.80,84.77 451.10,83.56 451.40,83.13 451.70,84.03 452.00,83.41 452.30,83.08 452.60,78.96 452.90,76.51 453.20,74.67 453.50,75.88 453.80,73.96 454.10,73.70 454.40,75.96 454.70,76.45 455.00,78.54 455.30,81.36 455.60,80.92 455.90,81.93 456.20,82.27 456.50,81.57 456.80,82.39 457.10,82.94 457.40,85.00 457.70,84.88 458.00,87.12 458.30,89.24 458.60,88.69 458.90,89.49 459.20,89.44 459.50,91.10 459.80,92.16 460.10,90.14 460.40,91.92 460.70,91.63 461.00,93.71 461.30,96.69 461.60,97.24 461.90,96.73 462.20,98.76 462.50,100.21 462.80,98.60 463.10,98.89 463.40,100.09 463.70,99.14 464.00,98.64 464.30,98.85 464.60,99.53 464.90,97.70 465.20,97.20 465.50,93.25 465.80,93.96 466.10,95.15 466.40,95.38 466.70,96.72 467.00,97.82 467.30,97.21 467.60,97.21 467.90,95.90 468.20,99.15 468.50,97.25 468.80,98.32 469.10,100.17 469.40,101.24 469.70,99.01 470.00,99.48 470.30,97.43 470.60,95.27 470.90,94.77 471.20,94.45 471.50,93.56 471.80,95.70 472.10,96.22 472.40,95.36 472.70,94.73 473.00,94.88 473.30,94.25 473.60,94.12 473.90,94.15 474.20,94.14 474.50,94.15 474.80,95.16 475.10,95.01 475.40,96.02 475.70,96.10 476.00,96.81 476.30,96.06 476.60,94.78 476.90,93.73 477.20,95.68 477.50,96.13 477.80,96.65 478.10,98.20 478.40,99.07 478.70,100.38 479.00,100.74 479.30,101.92 479.60,100.80 479.90,102.27 480.20,103.47 480.50,104.95 480.80,105.61 481.10,105.77 481.40,107.08 481.70,111.62 482.00,113.79 482.30,117.22 482.60,120.41 482.90,119.60 483.20,123.17 483.50,124.21 483.80,126.10 484.10,125.83 484.40,127.42 484.70,125.68 485.00,125.80 485.30,124.14 485.60,122.53 485.90,121.73 486.20,119.64 486.50,120.44 486.80,121.17 487.10,124.06 487.40,123.88 487.70,122.93 488.00,124.28 488.30,121.52 488.60,120.83 488.90,118.84 489.20,114.94 489.50,114.12 489.80,112.28 490.10,112.64 490.40,113.20 490.70,112.13 491.00,110.54 491.30,111.12 491.60,111.18 491.90,110.59 492.20,108.15 492.50,107.66 492.80,107.90 493.10,107.69 493.40,109.06 493.70,108.77 494.00,107.57 494.30,110.14 494.60,109.92 494.90,107.97 495.20,107.37 495.50,107.57 495.80,107.35 496.10,106.67 496.40,107.92 496.70,108.62 497.00,111.72 497.30,111.57 497.60,112.34 497.90,113.14 498.20,113.18 498.50,113.55 498.80,115.95 499.10,116.66 499.40,119.07 499.70,117.46 500.00,118.95 500.30,120.92 500.60,120.68 500.90,122.55 501.20,122.13 501.50,122.61 501.80,123.82 502.10,124.56 502.40,127.56 502.70,128.12 503.00,132.51 503.30,135.08 503.60,138.11 503.90,140.91 504.20,143.95 504.50,148.67 504.80,152.99 505.10,157.62 505.40,160.20 505.70,165.06 506.00,171.51 506.30,175.06 506.60,179.23 506.90,184.62 507.20,190.08 507.50,193.32 507.80,195.67 508.10,199.36 508.40,202.34 508.70,206.59 509.00,208.78 509.30,213.74 509.60,216.24 509.90,220.13 510.20,222.09 510.50,223.54 510.80,221.90 511.10,223.38 511.40,221.47 511.70,219.68 512.00,219.99 512.30,216.67 512.60,214.48 512.90,210.29 513.20,208.50 513.50,203.51 513.80,200.66 514.10,198.05 514.40,196.03 514.70,192.06 515.00,190.26 515.30,190.42 515.60,186.98 515.90,184.78 516.20,179.22 516.50,176.55 516.80,174.14 517.10,170.97 517.40,166.09 517.70,161.58 518.00,158.21 518.30,155.96 518.60,155.97 518.90,153.19 519.20,150.34 519.50,147.06 519.80,146.57 520.10,143.50 520.40,142.18 520.70,140.09 521.00,137.34 521.30,135.87 521.60,133.78 521.90,131.49 522.20,131.31 522.50,129.47 522.80,128.41 523.10,124.79 523.40,122.43 523.70,119.90 524.00,115.47 524.30,114.64 524.60,113.44 524.90,110.86 525.20,108.26 525.50,106.60 525.80,103.99 526.10,100.50 526.40,97.88 526.70,94.97 527.00,93.69 527.30,93.47 527.60,91.97 527.90,89.97 528.20,90.49 528.50,89.56 528.80,91.12 529.10,90.42 529.40,91.36 529.70,93.12 530.00,90.57 530.30,85.95 530.60,85.54 530.90,84.63 531.20,85.42 531.50,83.94 531.80,83.64 532.10,81.85 532.40,82.12 532.70,80.13 533.00,79.58 533.30,76.27 533.60,75.30 533.90,73.14 534.20,72.52 534.50,70.04 534.80,68.63 535.10,67.74 535.40,64.95 535.70,63.71 536.00,64.67 536.30,63.46 536.60,64.20 536.90,65.47 537.20,63.98 537.50,62.53 537.80,63.77 538.10,60.78 538.40,61.18 538.70,59.67 539.00,60.89 539.30,61.53 539.60,64.10 539.90,64.61 540.20,67.00 540.50,68.56 540.80,70.05 541.10,70.57 541.40,70.84 541.70,69.92 542.00,68.31 542.30,67.85 542.60,68.12 542.90,67.49 543.20,69.44 543.50,67.83 543.80,69.13 544.10,69.31 544.40,68.29 544.70,65.06 545.00,64.92 545.30,64.00 545.60,64.06 545.90,61.99 546.20,60.51 546.50,61.43 546.80,59.47 547.10,60.26 547.40,59.90 547.70,59.52 548.00,58.41 548.30,59.55 548.60,61.80 548.90,60.64 549.20,62.23 549.50,61.79 549.80,62.15 550.10,66.40 550.40,68.11 550.70,70.82 551.00,72.23 551.30,71.75 551.60,72.71 551.90,70.67 552.20,71.56 552.50,70.26 552.80,71.12 553.10,71.31 553.40,71.07 553.70,70.35 554.00,66.89 554.30,65.71 554.60,63.70 554.90,60.54 555.20,58.94 555.50,57.22 555.80,56.23 556.10,55.40 556.40,54.38 556.70,53.04 557.00,52.91 557.30,51.21 557.60,51.79 557.90,51.45 558.20,50.34 558.50,49.32 558.80,50.54 559.10,49.82 559.40,48.45 559.70,50.04 560.00,51.31 560.30,50.11 560.60,49.42 560.90,50.47 561.20,48.79 561.50,47.93 561.80,49.12 562.10,47.11 562.40,47.32 562.70,44.38 563.00,43.95 563.30,44.72 563.60,47.62 563.90,47.97 564.20,49.39 564.50,50.20 564.80,52.34 565.10,51.26 565.40,49.95 565.70,51.57 566.00,51.28 566.30,51.24 566.60,51.29 566.90,52.61 567.20,54.62 567.50,54.66 567.80,57.69 568.10,57.74 568.40,61.27 568.70,62.05 569.00,61.82 569.30,60.83 569.60,61.26 569.90,61.39 570.20,61.88 570.50,60.97 570.80,63.07 571.10,63.56 571.40,65.17 571.70,65.54 572.00,67.68 572.30,66.85 572.60,71.79 572.90,72.44 573.20,74.26 573.50,74.93 573.80,77.80 574.10,79.49 574.40,80.64 574.70,81.72 575.00,82.96 575.30,83.85 575.60,86.29 575.90,88.62 576.20,90.99 576.50,93.44 576.80,94.93 577.10,97.28 577.40,99.87 577.70,102.21 578.00,103.75 578.30,105.52 578.60,106.42 578.90,107.14 579.20,107.76 579.50,104.27 579.80,104.59 580.10,101.68 580.40,102.47 580.70,101.45 581.00,101.80 581.30,99.43 581.60,101.20 581.90,101.26 582.20,100.92 582.50,98.69 582.80,97.53 583.10,96.77 583.40,96.13 583.70,95.23 584.00,93.83 584.30,94.58 584.60,94.48 584.90,93.87 585.20,93.05 585.50,91.53 585.80,91.95 586.10,90.28 586.40,89.17 586.70,88.64 587.00,87.12 587.30,88.36 587.60,89.60 587.90,86.93 588.20,87.29 588.50,87.35 588.80,87.97 589.10,87.60 589.40,89.20 589.70,89.31 590.00,88.80 590.30,90.58 590.60,92.99 590.90,95.87 591.20,97.87 591.50,100.43 591.80,101.76 592.10,102.35 592.40,102.14 592.70,104.13 593.00,104.72 593.30,105.99 593.60,108.25 593.90,111.82 594.20,114.65 594.50,118.00 594.80,119.18 595.10,119.73 595.40,119.68 595.70,119.35 596.00,117.37 596.30,118.08 596.60,115.38 596.90,114.95 597.20,113.77 597.50,112.82 597.80,111.42" stroke="#000" stroke-width="1.2"/>
</g>
<g stroke="#1c1c1c" fill="none" stroke-linecap="square">
<path d="M80.05 314.45V1.8H598.4V314.45Z" stroke-width="1.15" stroke-linejoin="round"/>
<path d="M80.05 2.8V313.45" stroke-width="1.3"/>
<path d="M81.05 1.8H597.4" stroke-width="1.25"/>
<path d="M95.43 314.45v-3M95.43 1.8v3M110.80 314.45v-3M110.80 1.8v3M126.18 314.45v-3M126.18 1.8v3M141.56 314.45v-3M141.56 1.8v3M156.94 314.45v-6M156.94 1.8v6M172.31 314.45v-3M172.31 1.8v3M187.69 314.45v-3M187.69 1.8v3M203.07 314.45v-3M203.07 1.8v3M218.44 314.45v-3M218.44 1.8v3M233.82 314.45v-6M233.82 1.8v6M249.20 314.45v-3M249.20 1.8v3M264.57 314.45v-3M264.57 1.8v3M279.95 314.45v-3M279.95 1.8v3M295.33 314.45v-3M295.33 1.8v3M310.70 314.45v-6M310.70 1.8v6M326.08 314.45v-3M326.08 1.8v3M341.46 314.45v-3M341.46 1.8v3M356.84 314.45v-3M356.84 1.8v3M372.21 314.45v-3M372.21 1.8v3M387.59 314.45v-6M387.59 1.8v6M402.97 314.45v-3M402.97 1.8v3M418.34 314.45v-3M418.34 1.8v3M433.72 314.45v-3M433.72 1.8v3M449.10 314.45v-3M449.10 1.8v3M464.48 314.45v-6M464.48 1.8v6M479.85 314.45v-3M479.85 1.8v3M495.23 314.45v-3M495.23 1.8v3M510.61 314.45v-3M510.61 1.8v3M525.98 314.45v-3M525.98 1.8v3M541.36 314.45v-6M541.36 1.8v6M556.74 314.45v-3M556.74 1.8v3M572.11 314.45v-3M572.11 1.8v3M587.49 314.45v-3M587.49 1.8v3" stroke-width="1.2" stroke-linecap="butt"/>
<path d="M80.05 301.90h5M598.4 301.90h-5M80.05 289.39h5M598.4 289.39h-5M80.05 276.89h5M598.4 276.89h-5M80.05 264.38h5M598.4 264.38h-5M80.05 251.88h10M598.4 251.88h-10M80.05 239.38h5M598.4 239.38h-5M80.05 226.87h5M598.4 226.87h-5M80.05 214.37h5M598.4 214.37h-5M80.05 201.86h5M598.4 201.86h-5M80.05 189.36h10M598.4 189.36h-10M80.05 176.86h5M598.4 176.86h-5M80.05 164.35h5M598.4 164.35h-5M80.05 151.85h5M598.4 151.85h-5M80.05 139.34h5M598.4 139.34h-5M80.05 126.84h10M598.4 126.84h-10M80.05 114.34h5M598.4 114.34h-5M80.05 101.83h5M598.4 101.83h-5M80.05 89.33h5M598.4 89.33h-5M80.05 76.82h5M598.4 76.82h-5M80.05 64.32h10M598.4 64.32h-10M80.05 51.82h5M598.4 51.82h-5M80.05 39.31h5M598.4 39.31h-5M80.05 26.81h5M598.4 26.81h-5M80.05 14.30h5M598.4 14.30h-5" stroke-width="1.2" stroke-linecap="butt"/>
</g>
<text x="36.12" y="15.20" font-size="21.6" letter-spacing="2.35" class="s tl">250</text>
<text x="36.12" y="71.70" font-size="21.6" letter-spacing="2.35" class="s tl">200</text>
<text x="36.12" y="134.30" font-size="21.6" letter-spacing="2.35" class="s tl">150</text>
<text x="36.12" y="196.80" font-size="21.6" letter-spacing="2.35" class="s tl">100</text>
<text x="49.27" y="259.20" font-size="21.6" letter-spacing="2.35" class="s tl">50</text>
<text x="62.42" y="313.90" font-size="21.6" letter-spacing="2.35" class="s tl">0</text>
<text x="74.65" y="342.80" font-size="21.6" letter-spacing="2.35" class="s tl">0</text>
<text x="144.74" y="342.80" font-size="21.6" letter-spacing="2.35" class="s tl">50</text>
<text x="214.73" y="342.80" font-size="21.6" letter-spacing="2.35" class="s tl">100</text>
<text x="291.62" y="342.80" font-size="21.6" letter-spacing="2.35" class="s tl">150</text>
<text x="368.98" y="342.80" font-size="21.6" letter-spacing="2.35" class="s tl">200</text>
<text x="445.86" y="342.80" font-size="21.6" letter-spacing="2.35" class="s tl">250</text>
<text x="522.70" y="342.80" font-size="21.6" letter-spacing="2.35" class="s tl">300</text>
<text transform="translate(292.07,367.30) scale(1.1,1)" font-size="21.8" letter-spacing="1.38" class="s tl">Time [yr]</text>
<g transform="translate(16.7,281.09) rotate(-90) scale(1.12,1)"><text x="0" y="0" font-size="21.4" letter-spacing="1.07" class="s tl">Energy</text></g>
<g transform="translate(16.7,195.57) rotate(-90) scale(1.12,1)"><text x="0" y="0" font-size="21.4" letter-spacing="1.76" class="s tl">density</text></g>
<g transform="translate(16.7,105.68) rotate(-90) scale(1.12,1)"><text x="0" y="0" font-size="21.4" letter-spacing="2.51" class="s tl">[J/kg]</text></g>
<text transform="translate(173.02,88.8) scale(0.9439,1)" font-size="21.3" class="s th" style="fill:#000">E</text>
<path d="M192.30 72.40Q181.90 82.65 192.30 92.90Q184.60 82.65 192.30 72.40Z" fill="#000" stroke="#000" stroke-width="0.35"/>
<path d="M201.3 73.0L196.0 82.85L201.3 92.7" fill="none" stroke="#000" stroke-width="0.85"/>
<text transform="translate(204.87,88.8) scale(1.1794,1)" font-size="21.3" class="s th" style="fill:#000">u</text>
<path d="M220.9 73.0L226.0 82.85L220.9 92.7" fill="none" stroke="#000" stroke-width="0.85"/>
<path d="M229.90 72.30Q239.50 82.60 229.90 92.90Q236.80 82.60 229.90 72.30Z" fill="#000" stroke="#000" stroke-width="0.35"/>
<text transform="translate(527.03,145.0) scale(0.9262,1)" font-size="21.3" class="s th" style="fill:#1f7f35">E</text>
<path d="M546.30 128.80Q535.70 139.25 546.30 149.70Q538.40 139.25 546.30 128.80Z" fill="#1f7f35" stroke="#1f7f35" stroke-width="0.35"/>
<text transform="translate(549.78,145.0) scale(1.1494,1)" font-size="21.3" class="s th" style="fill:#1f7f35">u</text>
<path d="M565.70 131.20L567.70 131.20L566.10 136.20L565.20 135.90Z" fill="#1f7f35" stroke="#1f7f35" stroke-width="0.3" stroke-linejoin="round"/>
<path d="M571.70 128.80Q582.10 139.25 571.70 149.70Q579.40 139.25 571.70 128.80Z" fill="#1f7f35" stroke="#1f7f35" stroke-width="0.35"/>
<text transform="translate(349.82,182.6) scale(0.9527,1)" font-size="21.3" class="s th" style="fill:#d4821f">E</text>
<path d="M369.20 166.00Q358.80 176.45 369.20 186.90Q361.50 176.45 369.20 166.00Z" fill="#d4821f" stroke="#d4821f" stroke-width="0.35"/>
<text transform="translate(372.45,182.6) scale(0.9002,1)" font-size="21.3" class="s th" style="fill:#d4821f">B</text>
<path d="M388.10 168.50L389.80 168.50L388.50 173.60L387.60 173.30Z" fill="#d4821f" stroke="#d4821f" stroke-width="0.3" stroke-linejoin="round"/>
<path d="M393.90 166.00Q403.70 176.45 393.90 186.90Q401.00 176.45 393.90 166.00Z" fill="#d4821f" stroke="#d4821f" stroke-width="0.35"/>
<text transform="translate(388.52,295.1) scale(0.9527,1)" font-size="21.3" class="s th" style="fill:#ad1a1a">E</text>
<path d="M407.90 278.80Q397.50 289.20 407.90 299.60Q400.20 289.20 407.90 278.80Z" fill="#ad1a1a" stroke="#ad1a1a" stroke-width="0.35"/>
<path d="M416.9 279.2L412.2 289.2L416.9 299.2" fill="none" stroke="#ad1a1a" stroke-width="0.85"/>
<text transform="translate(419.96,295.1) scale(0.8842,1)" font-size="21.3" class="s th" style="fill:#ad1a1a">B</text>
<path d="M435.8 279.2L440.9 289.2L435.8 299.2" fill="none" stroke="#ad1a1a" stroke-width="0.85"/>
<path d="M444.80 278.80Q455.20 289.20 444.80 299.60Q452.50 289.20 444.80 278.80Z" fill="#ad1a1a" stroke="#ad1a1a" stroke-width="0.35"/>
</svg>
</body></html>
